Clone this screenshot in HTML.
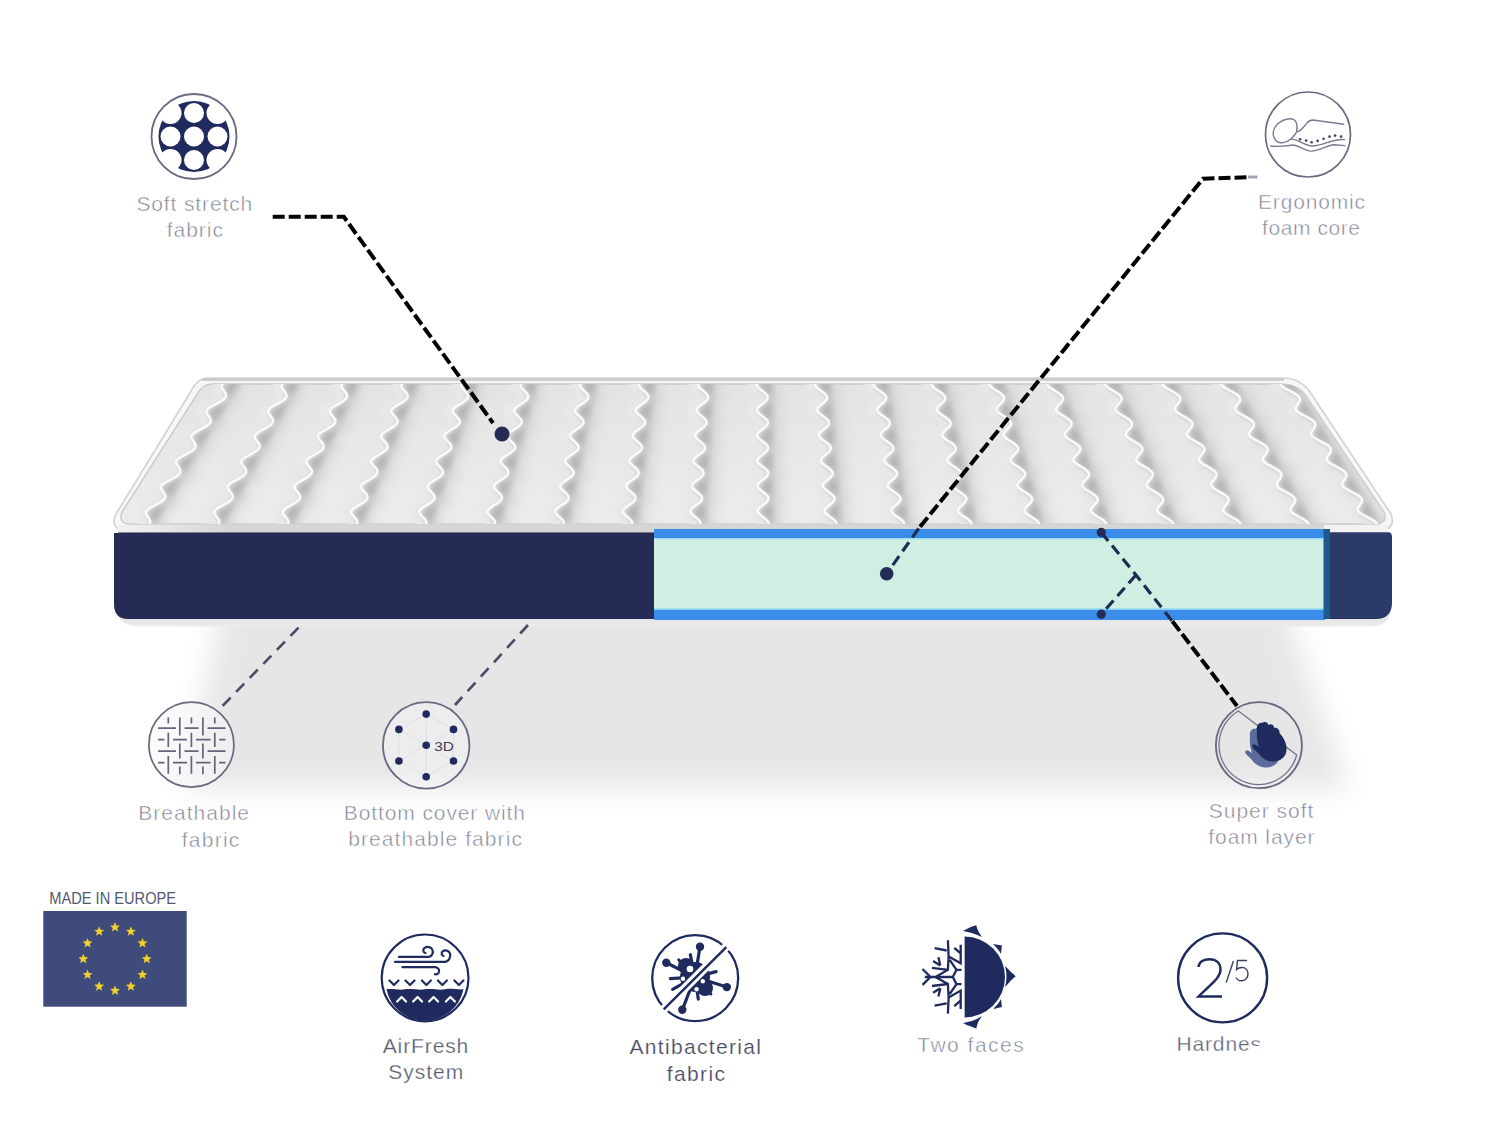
<!DOCTYPE html>
<html><head><meta charset="utf-8">
<style>
html,body{margin:0;padding:0;background:#fff;width:1500px;height:1125px;overflow:hidden}
svg{position:absolute;left:0;top:0;display:block}
text{font-family:"Liberation Sans",sans-serif}
</style></head><body>
<svg width="1500" height="1125" viewBox="0 0 1500 1125">
<defs>
<g id="waves"><path d="M232.5,378.0 L230.5,379.1 L228.4,380.2 L226.4,381.3 L224.7,382.3 L223.2,383.4 L222.1,384.5 L221.6,385.6 L221.6,386.7 L221.9,387.8 L222.5,388.9 L223.2,389.9 L224.0,391.0 L224.7,392.1 L225.4,393.2 L225.8,394.3 L225.9,395.4 L225.8,396.5 L225.3,397.5 L224.4,398.6 L223.2,399.7 L221.7,400.8 L219.9,401.9 L217.9,403.0 L215.8,404.1 L213.8,405.1 L211.8,406.2 L209.9,407.3 L208.4,408.4 L207.2,409.5 L206.5,410.6 L206.4,411.7 L206.6,412.7 L207.1,413.8 L207.8,414.9 L208.6,416.0 L209.4,417.1 L210.1,418.2 L210.5,419.3 L210.8,420.3 L210.7,421.4 L210.3,422.5 L209.5,423.6 L208.4,424.7 L206.9,425.8 L205.2,426.9 L203.3,427.9 L201.2,429.0 L199.1,430.1 L197.1,431.2 L195.2,432.3 L193.6,433.4 L192.3,434.5 L191.5,435.5 L191.3,436.6 L191.4,437.7 L191.8,438.8 L192.5,439.9 L193.3,441.0 L194.0,442.1 L194.7,443.1 L195.3,444.2 L195.6,445.3 L195.6,446.4 L195.3,447.5 L194.6,448.6 L193.6,449.7 L192.2,450.7 L190.5,451.8 L188.6,452.9 L186.6,454.0 L184.5,455.1 L182.5,456.2 L180.5,457.3 L178.8,458.3 L177.5,459.4 L176.5,460.5 L176.1,461.6 L176.2,462.7 L176.6,463.8 L177.2,464.9 L177.9,465.9 L178.7,467.0 L179.4,468.1 L180.0,469.2 L180.4,470.3 L180.5,471.4 L180.2,472.5 L179.7,473.5 L178.7,474.6 L177.4,475.7 L175.8,476.8 L174.0,477.9 L172.0,479.0 L169.9,480.1 L167.8,481.1 L165.9,482.2 L164.1,483.3 L162.6,484.4 L161.5,485.5 L161.0,486.6 L161.0,487.7 L161.3,488.7 L161.8,489.8 L162.6,490.9 L163.3,492.0 L164.1,493.1 L164.7,494.2 L165.2,495.3 L165.3,496.3 L165.2,497.4 L164.7,498.5 L163.8,499.6 L162.6,500.7 L161.1,501.8 L159.3,502.9 L157.4,503.9 L155.3,505.0 L153.2,506.1 L151.2,507.2 L149.4,508.3 L147.8,509.4 L146.6,510.5 L145.9,511.5 L145.8,512.6 L146.0,513.7 L146.5,514.8 L147.2,515.9 L148.0,517.0 L148.8,518.1 L149.4,519.1 L149.9,520.2 L150.2,521.3 L150.1,522.4 L149.7,523.5 L148.9,524.6 L147.8,525.7 L146.4,526.7 L144.7,527.8 L142.7,528.9 L140.7,530.0" />
<path d="M292.0,378.0 L290.0,379.1 L288.0,380.2 L286.1,381.3 L284.4,382.3 L283.0,383.4 L282.0,384.5 L281.6,385.6 L281.6,386.7 L282.0,387.8 L282.6,388.9 L283.4,389.9 L284.3,391.0 L285.1,392.1 L285.8,393.2 L286.3,394.3 L286.5,395.4 L286.5,396.5 L286.0,397.5 L285.2,398.6 L284.1,399.7 L282.6,400.8 L280.9,401.9 L279.0,403.0 L277.0,404.1 L275.0,405.1 L273.1,406.2 L271.3,407.3 L269.9,408.4 L268.8,409.5 L268.2,410.6 L268.1,411.7 L268.4,412.7 L269.0,413.8 L269.8,414.9 L270.6,416.0 L271.4,417.1 L272.2,418.2 L272.8,419.3 L273.1,420.3 L273.1,421.4 L272.7,422.5 L272.0,423.6 L271.0,424.7 L269.6,425.8 L267.9,426.9 L266.1,427.9 L264.1,429.0 L262.1,430.1 L260.1,431.2 L258.3,432.3 L256.8,433.4 L255.6,434.5 L254.8,435.5 L254.6,436.6 L254.9,437.7 L255.4,438.8 L256.1,439.9 L256.9,441.0 L257.8,442.1 L258.6,443.1 L259.2,444.2 L259.6,445.3 L259.6,446.4 L259.4,447.5 L258.8,448.6 L257.8,449.7 L256.5,450.7 L254.9,451.8 L253.1,452.9 L251.2,454.0 L249.1,455.1 L247.2,456.2 L245.3,457.3 L243.7,458.3 L242.4,459.4 L241.5,460.5 L241.2,461.6 L241.3,462.7 L241.8,463.8 L242.5,464.9 L243.3,465.9 L244.1,467.0 L244.9,468.1 L245.6,469.2 L246.0,470.3 L246.2,471.4 L246.0,472.5 L245.5,473.5 L244.6,474.6 L243.4,475.7 L241.9,476.8 L240.2,477.9 L238.2,479.0 L236.2,480.1 L234.2,481.1 L232.3,482.2 L230.6,483.3 L229.2,484.4 L228.2,485.5 L227.8,486.6 L227.8,487.7 L228.2,488.7 L228.8,489.8 L229.6,490.9 L230.5,492.0 L231.3,493.1 L232.0,494.2 L232.5,495.3 L232.8,496.3 L232.7,497.4 L232.2,498.5 L231.5,499.6 L230.3,500.7 L228.9,501.8 L227.2,502.9 L225.3,503.9 L223.3,505.0 L221.3,506.1 L219.3,507.2 L217.6,508.3 L216.1,509.4 L215.0,510.5 L214.4,511.5 L214.3,512.6 L214.6,513.7 L215.2,514.8 L215.9,515.9 L216.8,517.0 L217.6,518.1 L218.4,519.1 L219.0,520.2 L219.3,521.3 L219.3,522.4 L218.9,523.5 L218.2,524.6 L217.2,525.7 L215.8,526.7 L214.2,527.8 L212.3,528.9 L210.4,530.0" />
<path d="M351.3,378.0 L349.4,379.1 L347.5,380.2 L345.7,381.3 L344.1,382.3 L342.7,383.4 L341.8,384.5 L341.5,385.6 L341.6,386.7 L342.0,387.8 L342.7,388.9 L343.6,389.9 L344.5,391.0 L345.4,392.1 L346.2,393.2 L346.8,394.3 L347.1,395.4 L347.1,396.5 L346.7,397.5 L346.0,398.6 L344.9,399.7 L343.6,400.8 L341.9,401.9 L340.1,403.0 L338.2,404.1 L336.2,405.1 L334.4,406.2 L332.7,407.3 L331.3,408.4 L330.3,409.5 L329.7,410.6 L329.8,411.7 L330.1,412.7 L330.8,413.8 L331.6,414.9 L332.6,416.0 L333.5,417.1 L334.3,418.2 L334.9,419.3 L335.3,420.3 L335.4,421.4 L335.1,422.5 L334.5,423.6 L333.5,424.7 L332.2,425.8 L330.6,426.9 L328.8,427.9 L326.9,429.0 L325.0,430.1 L323.1,431.2 L321.4,432.3 L319.9,433.4 L318.7,434.5 L318.1,435.5 L318.0,436.6 L318.3,437.7 L318.9,438.8 L319.7,439.9 L320.6,441.0 L321.5,442.1 L322.3,443.1 L323.0,444.2 L323.5,445.3 L323.6,446.4 L323.5,447.5 L322.9,448.6 L322.0,449.7 L320.8,450.7 L319.3,451.8 L317.6,452.9 L315.7,454.0 L313.7,455.1 L311.8,456.2 L310.0,457.3 L308.5,458.3 L307.3,459.4 L306.4,460.5 L306.2,461.6 L306.4,462.7 L306.9,463.8 L307.7,464.9 L308.6,465.9 L309.5,467.0 L310.4,468.1 L311.1,469.2 L311.7,470.3 L311.9,471.4 L311.8,472.5 L311.4,473.5 L310.5,474.6 L309.4,475.7 L308.0,476.8 L306.3,477.9 L304.4,479.0 L302.5,480.1 L300.6,481.1 L298.7,482.2 L297.1,483.3 L295.8,484.4 L294.9,485.5 L294.5,486.6 L294.6,487.7 L295.0,488.7 L295.7,489.8 L296.6,490.9 L297.5,492.0 L298.4,493.1 L299.2,494.2 L299.8,495.3 L300.1,496.3 L300.1,497.4 L299.8,498.5 L299.0,499.6 L298.0,500.7 L296.6,501.8 L295.0,502.9 L293.2,503.9 L291.2,505.0 L289.3,506.1 L287.4,507.2 L285.8,508.3 L284.4,509.4 L283.3,510.5 L282.8,511.5 L282.8,512.6 L283.1,513.7 L283.8,514.8 L284.6,515.9 L285.6,517.0 L286.5,518.1 L287.3,519.1 L287.9,520.2 L288.3,521.3 L288.4,522.4 L288.1,523.5 L287.5,524.6 L286.5,525.7 L285.2,526.7 L283.7,527.8 L281.9,528.9 L280.0,530.0" />
<path d="M410.7,378.0 L408.8,379.1 L406.9,380.2 L405.2,381.3 L403.7,382.3 L402.4,383.4 L401.6,384.5 L401.3,385.6 L401.5,386.7 L402.0,387.8 L402.8,388.9 L403.7,389.9 L404.7,391.0 L405.7,392.1 L406.5,393.2 L407.2,394.3 L407.6,395.4 L407.6,396.5 L407.3,397.5 L406.7,398.6 L405.7,399.7 L404.4,400.8 L402.8,401.9 L401.1,403.0 L399.2,404.1 L397.4,405.1 L395.6,406.2 L394.0,407.3 L392.7,408.4 L391.7,409.5 L391.2,410.6 L391.3,411.7 L391.8,412.7 L392.5,413.8 L393.4,414.9 L394.4,416.0 L395.4,417.1 L396.3,418.2 L397.0,419.3 L397.5,420.3 L397.6,421.4 L397.4,422.5 L396.9,423.6 L395.9,424.7 L394.7,425.8 L393.2,426.9 L391.5,427.9 L389.7,429.0 L387.8,430.1 L386.0,431.2 L384.3,432.3 L382.9,433.4 L381.9,434.5 L381.3,435.5 L381.2,436.6 L381.6,437.7 L382.3,438.8 L383.1,439.9 L384.1,441.0 L385.1,442.1 L386.0,443.1 L386.8,444.2 L387.3,445.3 L387.6,446.4 L387.5,447.5 L387.0,448.6 L386.2,449.7 L385.0,450.7 L383.6,451.8 L381.9,452.9 L380.1,454.0 L378.2,455.1 L376.4,456.2 L374.7,457.3 L373.2,458.3 L372.1,459.4 L371.3,460.5 L371.2,461.6 L371.4,462.7 L372.0,463.8 L372.9,464.9 L373.8,465.9 L374.8,467.0 L375.8,468.1 L376.6,469.2 L377.2,470.3 L377.5,471.4 L377.5,472.5 L377.1,473.5 L376.4,474.6 L375.3,475.7 L373.9,476.8 L372.3,477.9 L370.5,479.0 L368.7,480.1 L366.8,481.1 L365.1,482.2 L363.5,483.3 L362.3,484.4 L361.4,485.5 L361.1,486.6 L361.3,487.7 L361.8,488.7 L362.6,489.8 L363.5,490.9 L364.5,492.0 L365.5,493.1 L366.4,494.2 L367.0,495.3 L367.4,496.3 L367.5,497.4 L367.2,498.5 L366.5,499.6 L365.6,500.7 L364.3,501.8 L362.7,502.9 L361.0,503.9 L359.1,505.0 L357.2,506.1 L355.5,507.2 L353.9,508.3 L352.5,509.4 L351.5,510.5 L351.1,511.5 L351.2,512.6 L351.6,513.7 L352.3,514.8 L353.2,515.9 L354.2,517.0 L355.2,518.1 L356.1,519.1 L356.8,520.2 L357.3,521.3 L357.4,522.4 L357.3,523.5 L356.7,524.6 L355.8,525.7 L354.6,526.7 L353.1,527.8 L351.4,528.9 L349.5,530.0" />
<path d="M469.8,378.0 L468.1,379.1 L466.3,380.2 L464.6,381.3 L463.1,382.3 L462.0,383.4 L461.2,384.5 L461.0,385.6 L461.2,386.7 L461.8,387.8 L462.7,388.9 L463.7,389.9 L464.8,391.0 L465.8,392.1 L466.8,393.2 L467.5,394.3 L467.9,395.4 L468.1,396.5 L467.9,397.5 L467.3,398.6 L466.4,399.7 L465.1,400.8 L463.6,401.9 L462.0,403.0 L460.2,404.1 L458.4,405.1 L456.7,406.2 L455.2,407.3 L453.9,408.4 L453.0,409.5 L452.6,410.6 L452.8,411.7 L453.3,412.7 L454.1,413.8 L455.1,414.9 L456.2,416.0 L457.2,417.1 L458.2,418.2 L459.0,419.3 L459.5,420.3 L459.7,421.4 L459.6,422.5 L459.1,423.6 L458.3,424.7 L457.1,425.8 L455.7,426.9 L454.1,427.9 L452.3,429.0 L450.5,430.1 L448.8,431.2 L447.2,432.3 L445.9,433.4 L444.9,434.5 L444.3,435.5 L444.4,436.6 L444.8,437.7 L445.6,438.8 L446.5,439.9 L447.6,441.0 L448.6,442.1 L449.6,443.1 L450.5,444.2 L451.1,445.3 L451.4,446.4 L451.3,447.5 L450.9,448.6 L450.2,449.7 L449.1,450.7 L447.7,451.8 L446.2,452.9 L444.4,454.0 L442.6,455.1 L440.9,456.2 L439.2,457.3 L437.8,458.3 L436.7,459.4 L436.1,460.5 L436.0,461.6 L436.3,462.7 L437.0,463.8 L437.9,464.9 L438.9,465.9 L440.0,467.0 L441.0,468.1 L441.9,469.2 L442.6,470.3 L443.0,471.4 L443.0,472.5 L442.7,473.5 L442.1,474.6 L441.1,475.7 L439.8,476.8 L438.2,477.9 L436.5,479.0 L434.7,480.1 L433.0,481.1 L431.3,482.2 L429.8,483.3 L428.6,484.4 L427.8,485.5 L427.6,486.6 L427.9,487.7 L428.5,488.7 L429.3,489.8 L430.3,490.9 L431.4,492.0 L432.5,493.1 L433.4,494.2 L434.1,495.3 L434.6,496.3 L434.7,497.4 L434.5,498.5 L433.9,499.6 L433.0,500.7 L431.8,501.8 L430.3,502.9 L428.6,503.9 L426.9,505.0 L425.1,506.1 L423.4,507.2 L421.8,508.3 L420.6,509.4 L419.7,510.5 L419.3,511.5 L419.4,512.6 L419.9,513.7 L420.7,514.8 L421.7,515.9 L422.8,517.0 L423.9,518.1 L424.8,519.1 L425.6,520.2 L426.1,521.3 L426.4,522.4 L426.3,523.5 L425.8,524.6 L424.9,525.7 L423.8,526.7 L422.4,527.8 L420.7,528.9 L419.0,530.0" />
<path d="M528.9,378.0 L527.2,379.1 L525.5,380.2 L523.9,381.3 L522.5,382.3 L521.4,383.4 L520.7,384.5 L520.5,385.6 L520.9,386.7 L521.5,387.8 L522.5,388.9 L523.6,389.9 L524.7,391.0 L525.8,392.1 L526.8,393.2 L527.6,394.3 L528.1,395.4 L528.4,396.5 L528.2,397.5 L527.7,398.6 L526.9,399.7 L525.7,400.8 L524.3,401.9 L522.7,403.0 L521.0,404.1 L519.3,405.1 L517.6,406.2 L516.2,407.3 L515.0,408.4 L514.2,409.5 L513.9,410.6 L514.1,411.7 L514.7,412.7 L515.6,413.8 L516.6,414.9 L517.8,416.0 L518.9,417.1 L520.0,418.2 L520.8,419.3 L521.4,420.3 L521.7,421.4 L521.6,422.5 L521.2,423.6 L520.5,424.7 L519.4,425.8 L518.0,426.9 L516.5,427.9 L514.8,429.0 L513.1,430.1 L511.4,431.2 L509.9,432.3 L508.6,433.4 L507.7,434.5 L507.2,435.5 L507.4,436.6 L507.9,437.7 L508.7,438.8 L509.7,439.9 L510.8,441.0 L512.0,442.1 L513.1,443.1 L514.0,444.2 L514.6,445.3 L515.0,446.4 L515.1,447.5 L514.7,448.6 L514.1,449.7 L513.1,450.7 L511.8,451.8 L510.2,452.9 L508.6,454.0 L506.9,455.1 L505.2,456.2 L503.6,457.3 L502.3,458.3 L501.3,459.4 L500.7,460.5 L500.7,461.6 L501.1,462.7 L501.8,463.8 L502.8,464.9 L503.9,465.9 L505.1,467.0 L506.2,468.1 L507.1,469.2 L507.9,470.3 L508.3,471.4 L508.4,472.5 L508.2,473.5 L507.6,474.6 L506.7,475.7 L505.5,476.8 L504.0,477.9 L502.4,479.0 L500.7,480.1 L499.0,481.1 L497.4,482.2 L496.0,483.3 L494.9,484.4 L494.1,485.5 L494.0,486.6 L494.3,487.7 L495.0,488.7 L495.9,489.8 L497.0,490.9 L498.1,492.0 L499.3,493.1 L500.3,494.2 L501.1,495.3 L501.6,496.3 L501.8,497.4 L501.7,498.5 L501.2,499.6 L500.3,500.7 L499.2,501.8 L497.8,502.9 L496.2,503.9 L494.5,505.0 L492.8,506.1 L491.1,507.2 L489.7,508.3 L488.5,509.4 L487.6,510.5 L487.3,511.5 L487.5,512.6 L488.1,513.7 L489.0,514.8 L490.1,515.9 L491.2,517.0 L492.3,518.1 L493.4,519.1 L494.2,520.2 L494.8,521.3 L495.1,522.4 L495.1,523.5 L494.7,524.6 L493.9,525.7 L492.9,526.7 L491.5,527.8 L490.0,528.9 L488.3,530.0" />
<path d="M587.7,378.0 L586.1,379.1 L584.5,380.2 L583.0,381.3 L581.6,382.3 L580.6,383.4 L580.0,384.5 L579.9,385.6 L580.3,386.7 L581.1,387.8 L582.1,388.9 L583.2,389.9 L584.5,391.0 L585.6,392.1 L586.7,393.2 L587.6,394.3 L588.2,395.4 L588.5,396.5 L588.4,397.5 L588.0,398.6 L587.2,399.7 L586.1,400.8 L584.8,401.9 L583.2,403.0 L581.6,404.1 L580.0,405.1 L578.4,406.2 L577.0,407.3 L575.9,408.4 L575.2,409.5 L574.9,410.6 L575.2,411.7 L575.9,412.7 L576.9,413.8 L578.0,414.9 L579.2,416.0 L580.4,417.1 L581.5,418.2 L582.5,419.3 L583.1,420.3 L583.5,421.4 L583.5,422.5 L583.2,423.6 L582.5,424.7 L581.5,425.8 L580.2,426.9 L578.7,427.9 L577.1,429.0 L575.4,430.1 L573.8,431.2 L572.4,432.3 L571.2,433.4 L570.4,434.5 L570.0,435.5 L570.2,436.6 L570.8,437.7 L571.7,438.8 L572.7,439.9 L574.0,441.0 L575.2,442.1 L576.3,443.1 L577.3,444.2 L578.0,445.3 L578.5,446.4 L578.6,447.5 L578.4,448.6 L577.8,449.7 L576.8,450.7 L575.6,451.8 L574.2,452.9 L572.6,454.0 L570.9,455.1 L569.3,456.2 L567.8,457.3 L566.6,458.3 L565.6,459.4 L565.1,460.5 L565.2,461.6 L565.7,462.7 L566.5,463.8 L567.5,464.9 L568.7,465.9 L569.9,467.0 L571.1,468.1 L572.1,469.2 L572.9,470.3 L573.5,471.4 L573.7,472.5 L573.5,473.5 L573.0,474.6 L572.2,475.7 L571.0,476.8 L569.6,477.9 L568.1,479.0 L566.4,480.1 L564.8,481.1 L563.3,482.2 L561.9,483.3 L560.9,484.4 L560.2,485.5 L560.2,486.6 L560.6,487.7 L561.3,488.7 L562.3,489.8 L563.5,490.9 L564.7,492.0 L565.9,493.1 L567.0,494.2 L567.8,495.3 L568.4,496.3 L568.7,497.4 L568.7,498.5 L568.2,499.6 L567.5,500.7 L566.4,501.8 L565.1,502.9 L563.5,503.9 L561.9,505.0 L560.3,506.1 L558.7,507.2 L557.3,508.3 L556.2,509.4 L555.4,510.5 L555.2,511.5 L555.5,512.6 L556.1,513.7 L557.1,514.8 L558.2,515.9 L559.4,517.0 L560.6,518.1 L561.8,519.1 L562.7,520.2 L563.4,521.3 L563.7,522.4 L563.8,523.5 L563.4,524.6 L562.8,525.7 L561.8,526.7 L560.5,527.8 L559.0,528.9 L557.4,530.0" />
<path d="M646.4,378.0 L644.8,379.1 L643.3,380.2 L641.8,381.3 L640.6,382.3 L639.6,383.4 L639.1,384.5 L639.1,385.6 L639.6,386.7 L640.4,387.8 L641.5,388.9 L642.7,389.9 L644.0,391.0 L645.3,392.1 L646.4,393.2 L647.4,394.3 L648.0,395.4 L648.4,396.5 L648.4,397.5 L648.0,398.6 L647.3,399.7 L646.3,400.8 L645.0,401.9 L643.6,403.0 L642.0,404.1 L640.4,405.1 L639.0,406.2 L637.7,407.3 L636.6,408.4 L635.9,409.5 L635.8,410.6 L636.2,411.7 L636.9,412.7 L637.9,413.8 L639.1,414.9 L640.4,416.0 L641.7,417.1 L642.9,418.2 L643.9,419.3 L644.6,420.3 L645.1,421.4 L645.2,422.5 L644.9,423.6 L644.3,424.7 L643.4,425.8 L642.1,426.9 L640.7,427.9 L639.2,429.0 L637.6,430.1 L636.1,431.2 L634.7,432.3 L633.6,433.4 L632.8,434.5 L632.5,435.5 L632.8,436.6 L633.5,437.7 L634.4,438.8 L635.6,439.9 L636.9,441.0 L638.2,442.1 L639.4,443.1 L640.4,444.2 L641.3,445.3 L641.8,446.4 L642.0,447.5 L641.8,448.6 L641.3,449.7 L640.4,450.7 L639.2,451.8 L637.9,452.9 L636.4,454.0 L634.8,455.1 L633.2,456.2 L631.8,457.3 L630.6,458.3 L629.8,459.4 L629.3,460.5 L629.5,461.6 L630.0,462.7 L630.9,463.8 L632.0,464.9 L633.3,465.9 L634.6,467.0 L635.8,468.1 L637.0,469.2 L637.8,470.3 L638.4,471.4 L638.7,472.5 L638.6,473.5 L638.2,474.6 L637.4,475.7 L636.3,476.8 L635.0,477.9 L633.5,479.0 L632.0,480.1 L630.4,481.1 L628.9,482.2 L627.7,483.3 L626.7,484.4 L626.2,485.5 L626.1,486.6 L626.6,487.7 L627.4,488.7 L628.5,489.8 L629.7,490.9 L631.0,492.0 L632.3,493.1 L633.5,494.2 L634.4,495.3 L635.1,496.3 L635.4,497.4 L635.5,498.5 L635.1,499.6 L634.4,500.7 L633.4,501.8 L632.1,502.9 L630.7,503.9 L629.1,505.0 L627.6,506.1 L626.1,507.2 L624.8,508.3 L623.7,509.4 L623.0,510.5 L622.9,511.5 L623.2,512.6 L624.0,513.7 L625.0,514.8 L626.2,515.9 L627.5,517.0 L628.8,518.1 L629.9,519.1 L630.9,520.2 L631.7,521.3 L632.2,522.4 L632.3,523.5 L632.0,524.6 L631.4,525.7 L630.5,526.7 L629.3,527.8 L627.8,528.9 L626.3,530.0" />
<path d="M704.9,378.0 L703.4,379.1 L701.9,380.2 L700.5,381.3 L699.3,382.3 L698.5,383.4 L698.0,384.5 L698.1,385.6 L698.6,386.7 L699.5,387.8 L700.7,388.9 L702.0,389.9 L703.3,391.0 L704.7,392.1 L705.9,393.2 L706.9,394.3 L707.7,395.4 L708.1,396.5 L708.2,397.5 L707.9,398.6 L707.2,399.7 L706.3,400.8 L705.1,401.9 L703.7,403.0 L702.2,404.1 L700.7,405.1 L699.3,406.2 L698.1,407.3 L697.1,408.4 L696.5,409.5 L696.5,410.6 L696.9,411.7 L697.7,412.7 L698.8,413.8 L700.1,414.9 L701.5,416.0 L702.8,417.1 L704.1,418.2 L705.1,419.3 L706.0,420.3 L706.5,421.4 L706.6,422.5 L706.5,423.6 L705.9,424.7 L705.0,425.8 L703.9,426.9 L702.6,427.9 L701.1,429.0 L699.6,430.1 L698.1,431.2 L696.9,432.3 L695.8,433.4 L695.1,434.5 L694.9,435.5 L695.2,436.6 L696.0,437.7 L697.0,438.8 L698.2,439.9 L699.6,441.0 L700.9,442.1 L702.2,443.1 L703.4,444.2 L704.3,445.3 L704.8,446.4 L705.1,447.5 L705.0,448.6 L704.5,449.7 L703.8,450.7 L702.7,451.8 L701.4,452.9 L699.9,454.0 L698.4,455.1 L697.0,456.2 L695.6,457.3 L694.5,458.3 L693.7,459.4 L693.3,460.5 L693.6,461.6 L694.2,462.7 L695.2,463.8 L696.4,464.9 L697.7,465.9 L699.1,467.0 L700.4,468.1 L701.6,469.2 L702.5,470.3 L703.2,471.4 L703.5,472.5 L703.5,473.5 L703.2,474.6 L702.5,475.7 L701.5,476.8 L700.2,477.9 L698.8,479.0 L697.3,480.1 L695.8,481.1 L694.4,482.2 L693.3,483.3 L692.4,484.4 L691.9,485.5 L691.9,486.6 L692.5,487.7 L693.4,488.7 L694.5,489.8 L695.8,490.9 L697.2,492.0 L698.5,493.1 L699.7,494.2 L700.8,495.3 L701.5,496.3 L702.0,497.4 L702.0,498.5 L701.8,499.6 L701.1,500.7 L700.2,501.8 L699.0,502.9 L697.6,503.9 L696.2,505.0 L694.7,506.1 L693.2,507.2 L692.0,508.3 L691.0,509.4 L690.4,510.5 L690.3,511.5 L690.8,512.6 L691.6,513.7 L692.7,514.8 L693.9,515.9 L695.3,517.0 L696.7,518.1 L697.9,519.1 L699.0,520.2 L699.8,521.3 L700.3,522.4 L700.5,523.5 L700.3,524.6 L699.8,525.7 L699.0,526.7 L697.8,527.8 L696.5,528.9 L695.0,530.0" />
<path d="M763.1,378.0 L761.7,379.1 L760.3,380.2 L759.0,381.3 L757.9,382.3 L757.1,383.4 L756.7,384.5 L756.8,385.6 L757.4,386.7 L758.4,387.8 L759.6,388.9 L761.0,389.9 L762.5,391.0 L763.9,392.1 L765.2,393.2 L766.3,394.3 L767.1,395.4 L767.6,396.5 L767.7,397.5 L767.5,398.6 L767.0,399.7 L766.1,400.8 L765.0,401.9 L763.7,403.0 L762.2,404.1 L760.8,405.1 L759.5,406.2 L758.3,407.3 L757.4,408.4 L756.9,409.5 L756.9,410.6 L757.4,411.7 L758.3,412.7 L759.5,413.8 L760.8,414.9 L762.3,416.0 L763.7,417.1 L765.0,418.2 L766.2,419.3 L767.1,420.3 L767.7,421.4 L767.9,422.5 L767.8,423.6 L767.3,424.7 L766.5,425.8 L765.4,426.9 L764.2,427.9 L762.8,429.0 L761.4,430.1 L760.0,431.2 L758.8,432.3 L757.8,433.4 L757.2,434.5 L757.0,435.5 L757.4,436.6 L758.2,437.7 L759.3,438.8 L760.6,439.9 L762.1,441.0 L763.5,442.1 L764.9,443.1 L766.1,444.2 L767.0,445.3 L767.7,446.4 L768.0,447.5 L768.0,448.6 L767.6,449.7 L766.9,450.7 L765.9,451.8 L764.7,452.9 L763.3,454.0 L761.9,455.1 L760.5,456.2 L759.2,457.3 L758.2,458.3 L757.5,459.4 L757.2,460.5 L757.4,461.6 L758.2,462.7 L759.2,463.8 L760.5,464.9 L761.9,465.9 L763.3,467.0 L764.7,468.1 L766.0,469.2 L767.0,470.3 L767.7,471.4 L768.2,472.5 L768.2,473.5 L767.9,474.6 L767.3,475.7 L766.4,476.8 L765.2,477.9 L763.9,479.0 L762.4,480.1 L761.0,481.1 L759.7,482.2 L758.6,483.3 L757.8,484.4 L757.4,485.5 L757.5,486.6 L758.1,487.7 L759.1,488.7 L760.3,489.8 L761.7,490.9 L763.1,492.0 L764.5,493.1 L765.8,494.2 L766.9,495.3 L767.8,496.3 L768.3,497.4 L768.4,498.5 L768.2,499.6 L767.7,500.7 L766.8,501.8 L765.7,502.9 L764.4,503.9 L763.0,505.0 L761.5,506.1 L760.2,507.2 L759.0,508.3 L758.1,509.4 L757.6,510.5 L757.6,511.5 L758.1,512.6 L759.0,513.7 L760.1,514.8 L761.5,515.9 L762.9,517.0 L764.4,518.1 L765.7,519.1 L766.8,520.2 L767.7,521.3 L768.3,522.4 L768.6,523.5 L768.5,524.6 L768.0,525.7 L767.2,526.7 L766.2,527.8 L764.9,528.9 L763.5,530.0" />
<path d="M821.2,378.0 L819.8,379.1 L818.5,380.2 L817.3,381.3 L816.2,382.3 L815.5,383.4 L815.1,384.5 L815.4,385.6 L816.1,386.7 L817.1,387.8 L818.4,388.9 L819.9,389.9 L821.4,391.0 L822.9,392.1 L824.2,393.2 L825.4,394.3 L826.3,395.4 L826.9,396.5 L827.1,397.5 L826.9,398.6 L826.5,399.7 L825.7,400.8 L824.6,401.9 L823.4,403.0 L822.0,404.1 L820.7,405.1 L819.4,406.2 L818.3,407.3 L817.5,408.4 L817.1,409.5 L817.1,410.6 L817.7,411.7 L818.7,412.7 L819.9,413.8 L821.4,414.9 L822.9,416.0 L824.4,417.1 L825.8,418.2 L827.0,419.3 L828.0,420.3 L828.6,421.4 L828.9,422.5 L828.9,423.6 L828.5,424.7 L827.8,425.8 L826.8,426.9 L825.6,427.9 L824.3,429.0 L822.9,430.1 L821.6,431.2 L820.5,432.3 L819.6,433.4 L819.0,434.5 L818.9,435.5 L819.4,436.6 L820.3,437.7 L821.5,438.8 L822.9,439.9 L824.4,441.0 L825.9,442.1 L827.3,443.1 L828.6,444.2 L829.6,445.3 L830.4,446.4 L830.8,447.5 L830.8,448.6 L830.5,449.7 L829.9,450.7 L828.9,451.8 L827.8,452.9 L826.5,454.0 L825.1,455.1 L823.8,456.2 L822.6,457.3 L821.7,458.3 L821.0,459.4 L820.8,460.5 L821.1,461.6 L821.9,462.7 L823.0,463.8 L824.4,464.9 L825.8,465.9 L827.4,467.0 L828.8,468.1 L830.2,469.2 L831.3,470.3 L832.1,471.4 L832.6,472.5 L832.7,473.5 L832.5,474.6 L831.9,475.7 L831.1,476.8 L830.0,477.9 L828.7,479.0 L827.4,480.1 L826.0,481.1 L824.8,482.2 L823.8,483.3 L823.0,484.4 L822.7,485.5 L822.9,486.6 L823.6,487.7 L824.6,488.7 L825.9,489.8 L827.3,490.9 L828.9,492.0 L830.3,493.1 L831.7,494.2 L832.9,495.3 L833.8,496.3 L834.4,497.4 L834.6,498.5 L834.5,499.6 L834.0,500.7 L833.2,501.8 L832.2,502.9 L830.9,503.9 L829.6,505.0 L828.2,506.1 L827.0,507.2 L825.9,508.3 L825.0,509.4 L824.6,510.5 L824.6,511.5 L825.2,512.6 L826.2,513.7 L827.4,514.8 L828.8,515.9 L830.3,517.0 L831.8,518.1 L833.2,519.1 L834.5,520.2 L835.4,521.3 L836.1,522.4 L836.4,523.5 L836.4,524.6 L836.0,525.7 L835.3,526.7 L834.3,527.8 L833.1,528.9 L831.8,530.0" />
<path d="M879.0,378.0 L877.7,379.1 L876.5,380.2 L875.3,381.3 L874.4,382.3 L873.7,383.4 L873.4,384.5 L873.7,385.6 L874.5,386.7 L875.6,387.8 L877.0,388.9 L878.5,389.9 L880.1,391.0 L881.7,392.1 L883.1,393.2 L884.3,394.3 L885.3,395.4 L886.0,396.5 L886.3,397.5 L886.2,398.6 L885.8,399.7 L885.1,400.8 L884.1,401.9 L882.9,403.0 L881.6,404.1 L880.4,405.1 L879.2,406.2 L878.2,407.3 L877.4,408.4 L877.0,409.5 L877.2,410.6 L877.9,411.7 L878.9,412.7 L880.2,413.8 L881.7,414.9 L883.3,416.0 L884.9,417.1 L886.3,418.2 L887.6,419.3 L888.7,420.3 L889.4,421.4 L889.8,422.5 L889.8,423.6 L889.5,424.7 L888.8,425.8 L887.9,426.9 L886.8,427.9 L885.6,429.0 L884.3,430.1 L883.0,431.2 L882.0,432.3 L881.2,433.4 L880.7,434.5 L880.7,435.5 L881.2,436.6 L882.2,437.7 L883.4,438.8 L884.9,439.9 L886.5,441.0 L888.0,442.1 L889.5,443.1 L890.9,444.2 L892.0,445.3 L892.8,446.4 L893.3,447.5 L893.4,448.6 L893.2,449.7 L892.6,450.7 L891.8,451.8 L890.7,452.9 L889.5,454.0 L888.2,455.1 L886.9,456.2 L885.8,457.3 L884.9,458.3 L884.3,459.4 L884.2,460.5 L884.6,461.6 L885.5,462.7 L886.7,463.8 L888.1,464.9 L889.6,465.9 L891.2,467.0 L892.8,468.1 L894.1,469.2 L895.3,470.3 L896.2,471.4 L896.8,472.5 L897.0,473.5 L896.9,474.6 L896.4,475.7 L895.6,476.8 L894.6,477.9 L893.4,479.0 L892.1,480.1 L890.8,481.1 L889.7,482.2 L888.7,483.3 L888.0,484.4 L887.7,485.5 L888.0,486.6 L888.8,487.7 L889.9,488.7 L891.3,489.8 L892.8,490.9 L894.4,492.0 L895.9,493.1 L897.4,494.2 L898.6,495.3 L899.6,496.3 L900.3,497.4 L900.6,498.5 L900.5,499.6 L900.1,500.7 L899.4,501.8 L898.4,502.9 L897.3,503.9 L896.0,505.0 L894.7,506.1 L893.5,507.2 L892.5,508.3 L891.7,509.4 L891.4,510.5 L891.5,511.5 L892.1,512.6 L893.2,513.7 L894.5,514.8 L896.0,515.9 L897.6,517.0 L899.1,518.1 L900.6,519.1 L901.9,520.2 L903.0,521.3 L903.7,522.4 L904.1,523.5 L904.1,524.6 L903.8,525.7 L903.2,526.7 L902.3,527.8 L901.1,528.9 L899.9,530.0" />
<path d="M936.7,378.0 L935.5,379.1 L934.3,380.2 L933.2,381.3 L932.3,382.3 L931.7,383.4 L931.5,384.5 L931.9,385.6 L932.8,386.7 L934.0,387.8 L935.4,388.9 L937.0,389.9 L938.7,391.0 L940.3,392.1 L941.8,393.2 L943.1,394.3 L944.2,395.4 L944.9,396.5 L945.2,397.5 L945.2,398.6 L944.9,399.7 L944.3,400.8 L943.4,401.9 L942.3,403.0 L941.1,404.1 L939.9,405.1 L938.8,406.2 L937.8,407.3 L937.1,408.4 L936.8,409.5 L937.0,410.6 L937.8,411.7 L938.9,412.7 L940.3,413.8 L941.9,414.9 L943.5,416.0 L945.2,417.1 L946.7,418.2 L948.1,419.3 L949.2,420.3 L950.0,421.4 L950.5,422.5 L950.6,423.6 L950.3,424.7 L949.7,425.8 L948.9,426.9 L947.8,427.9 L946.7,429.0 L945.5,430.1 L944.3,431.2 L943.3,432.3 L942.6,433.4 L942.2,434.5 L942.2,435.5 L942.8,436.6 L943.9,437.7 L945.2,438.8 L946.7,439.9 L948.4,441.0 L950.0,442.1 L951.6,443.1 L953.0,444.2 L954.2,445.3 L955.1,446.4 L955.7,447.5 L955.8,448.6 L955.7,449.7 L955.2,450.7 L954.4,451.8 L953.4,452.9 L952.3,454.0 L951.0,455.1 L949.9,456.2 L948.8,457.3 L948.0,458.3 L947.5,459.4 L947.4,460.5 L947.9,461.6 L948.9,462.7 L950.1,463.8 L951.6,464.9 L953.2,465.9 L954.9,467.0 L956.5,468.1 L958.0,469.2 L959.2,470.3 L960.2,471.4 L960.8,472.5 L961.1,473.5 L961.0,474.6 L960.6,475.7 L959.9,476.8 L959.0,477.9 L957.8,479.0 L956.6,480.1 L955.4,481.1 L954.4,482.2 L953.5,483.3 L952.9,484.4 L952.7,485.5 L953.0,486.6 L953.9,487.7 L955.0,488.7 L956.5,489.8 L958.1,490.9 L959.7,492.0 L961.4,493.1 L962.9,494.2 L964.2,495.3 L965.3,496.3 L966.0,497.4 L966.4,498.5 L966.4,499.6 L966.0,500.7 L965.4,501.8 L964.5,502.9 L963.4,503.9 L962.2,505.0 L961.0,506.1 L959.9,507.2 L959.0,508.3 L958.3,509.4 L958.0,510.5 L958.2,511.5 L958.9,512.6 L960.0,513.7 L961.4,514.8 L962.9,515.9 L964.6,517.0 L966.2,518.1 L967.8,519.1 L969.2,520.2 L970.3,521.3 L971.1,522.4 L971.6,523.5 L971.7,524.6 L971.4,525.7 L970.9,526.7 L970.0,527.8 L969.0,528.9 L967.8,530.0" />
<path d="M994.2,378.0 L993.1,379.1 L992.0,380.2 L991.0,381.3 L990.1,382.3 L989.6,383.4 L989.5,384.5 L990.0,385.6 L990.9,386.7 L992.1,387.8 L993.7,388.9 L995.3,389.9 L997.1,391.0 L998.8,392.1 L1000.4,393.2 L1001.7,394.3 L1002.8,395.4 L1003.6,396.5 L1004.1,397.5 L1004.2,398.6 L1003.9,399.7 L1003.3,400.8 L1002.5,401.9 L1001.5,403.0 L1000.4,404.1 L999.2,405.1 L998.2,406.2 L997.3,407.3 L996.7,408.4 L996.5,409.5 L996.8,410.6 L997.6,411.7 L998.8,412.7 L1000.2,413.8 L1001.9,414.9 L1003.6,416.0 L1005.3,417.1 L1006.9,418.2 L1008.4,419.3 L1009.6,420.3 L1010.5,421.4 L1011.0,422.5 L1011.2,423.6 L1011.0,424.7 L1010.5,425.8 L1009.7,426.9 L1008.7,427.9 L1007.6,429.0 L1006.5,430.1 L1005.4,431.2 L1004.5,432.3 L1003.8,433.4 L1003.5,434.5 L1003.6,435.5 L1004.3,436.6 L1005.4,437.7 L1006.8,438.8 L1008.4,439.9 L1010.1,441.0 L1011.9,442.1 L1013.5,443.1 L1015.0,444.2 L1016.3,445.3 L1017.2,446.4 L1017.9,447.5 L1018.1,448.6 L1018.0,449.7 L1017.6,450.7 L1016.9,451.8 L1016.0,452.9 L1014.9,454.0 L1013.8,455.1 L1012.7,456.2 L1011.7,457.3 L1010.9,458.3 L1010.5,459.4 L1010.5,460.5 L1011.1,461.6 L1012.1,462.7 L1013.4,463.8 L1015.0,464.9 L1016.7,465.9 L1018.4,467.0 L1020.1,468.1 L1021.6,469.2 L1023.0,470.3 L1024.0,471.4 L1024.7,472.5 L1025.1,473.5 L1025.1,474.6 L1024.7,475.7 L1024.1,476.8 L1023.2,477.9 L1022.2,479.0 L1021.0,480.1 L1019.9,481.1 L1018.9,482.2 L1018.1,483.3 L1017.6,484.4 L1017.4,485.5 L1017.9,486.6 L1018.8,487.7 L1020.0,488.7 L1021.5,489.8 L1023.2,490.9 L1025.0,492.0 L1026.7,493.1 L1028.2,494.2 L1029.6,495.3 L1030.8,496.3 L1031.6,497.4 L1032.0,498.5 L1032.1,499.6 L1031.8,500.7 L1031.3,501.8 L1030.4,502.9 L1029.4,503.9 L1028.3,505.0 L1027.2,506.1 L1026.1,507.2 L1025.3,508.3 L1024.7,509.4 L1024.4,510.5 L1024.7,511.5 L1025.5,512.6 L1026.7,513.7 L1028.1,514.8 L1029.8,515.9 L1031.5,517.0 L1033.2,518.1 L1034.8,519.1 L1036.3,520.2 L1037.5,521.3 L1038.4,522.4 L1038.9,523.5 L1039.1,524.6 L1038.9,525.7 L1038.4,526.7 L1037.7,527.8 L1036.7,528.9 L1035.6,530.0" />
<path d="M1051.6,378.0 L1050.6,379.1 L1049.5,380.2 L1048.6,381.3 L1047.8,382.3 L1047.4,383.4 L1047.3,384.5 L1047.9,385.6 L1048.9,386.7 L1050.2,387.8 L1051.8,388.9 L1053.5,389.9 L1055.3,391.0 L1057.1,392.1 L1058.8,393.2 L1060.2,394.3 L1061.4,395.4 L1062.3,396.5 L1062.8,397.5 L1063.0,398.6 L1062.8,399.7 L1062.3,400.8 L1061.5,401.9 L1060.6,403.0 L1059.5,404.1 L1058.5,405.1 L1057.5,406.2 L1056.7,407.3 L1056.2,408.4 L1056.0,409.5 L1056.4,410.6 L1057.3,411.7 L1058.5,412.7 L1060.1,413.8 L1061.8,414.9 L1063.6,416.0 L1065.4,417.1 L1067.1,418.2 L1068.6,419.3 L1069.8,420.3 L1070.8,421.4 L1071.4,422.5 L1071.6,423.6 L1071.5,424.7 L1071.1,425.8 L1070.4,426.9 L1069.5,427.9 L1068.5,429.0 L1067.4,430.1 L1066.4,431.2 L1065.6,432.3 L1065.0,433.4 L1064.7,434.5 L1064.9,435.5 L1065.7,436.6 L1066.9,437.7 L1068.3,438.8 L1070.0,439.9 L1071.8,441.0 L1073.6,442.1 L1075.3,443.1 L1076.9,444.2 L1078.2,445.3 L1079.3,446.4 L1080.0,447.5 L1080.3,448.6 L1080.3,449.7 L1079.9,450.7 L1079.3,451.8 L1078.4,452.9 L1077.4,454.0 L1076.4,455.1 L1075.3,456.2 L1074.4,457.3 L1073.8,458.3 L1073.4,459.4 L1073.5,460.5 L1074.1,461.6 L1075.2,462.7 L1076.6,463.8 L1078.2,464.9 L1080.0,465.9 L1081.8,467.0 L1083.6,468.1 L1085.2,469.2 L1086.6,470.3 L1087.7,471.4 L1088.5,472.5 L1088.9,473.5 L1089.0,474.6 L1088.7,475.7 L1088.2,476.8 L1087.4,477.9 L1086.4,479.0 L1085.3,480.1 L1084.3,481.1 L1083.3,482.2 L1082.6,483.3 L1082.2,484.4 L1082.1,485.5 L1082.6,486.6 L1083.6,487.7 L1084.9,488.7 L1086.5,489.8 L1088.2,490.9 L1090.0,492.0 L1091.8,493.1 L1093.5,494.2 L1094.9,495.3 L1096.1,496.3 L1097.0,497.4 L1097.5,498.5 L1097.7,499.6 L1097.5,500.7 L1097.0,501.8 L1096.3,502.9 L1095.3,503.9 L1094.3,505.0 L1093.2,506.1 L1092.3,507.2 L1091.5,508.3 L1090.9,509.4 L1090.7,510.5 L1091.1,511.5 L1092.0,512.6 L1093.2,513.7 L1094.8,514.8 L1096.5,515.9 L1098.3,517.0 L1100.1,518.1 L1101.8,519.1 L1103.3,520.2 L1104.5,521.3 L1105.5,522.4 L1106.1,523.5 L1106.4,524.6 L1106.3,525.7 L1105.9,526.7 L1105.2,527.8 L1104.3,528.9 L1103.2,530.0" />
<path d="M1108.9,378.0 L1108.0,379.1 L1107.0,380.2 L1106.1,381.3 L1105.5,382.3 L1105.1,383.4 L1105.1,384.5 L1105.7,385.6 L1106.8,386.7 L1108.2,387.8 L1109.8,388.9 L1111.7,389.9 L1113.5,391.0 L1115.4,392.1 L1117.1,393.2 L1118.7,394.3 L1119.9,395.4 L1120.9,396.5 L1121.4,397.5 L1121.7,398.6 L1121.6,399.7 L1121.1,400.8 L1120.4,401.9 L1119.6,403.0 L1118.6,404.1 L1117.6,405.1 L1116.7,406.2 L1116.0,407.3 L1115.5,408.4 L1115.5,409.5 L1115.9,410.6 L1116.9,411.7 L1118.2,412.7 L1119.8,413.8 L1121.6,414.9 L1123.5,416.0 L1125.3,417.1 L1127.1,418.2 L1128.7,419.3 L1130.0,420.3 L1131.0,421.4 L1131.7,422.5 L1132.0,423.6 L1132.0,424.7 L1131.7,425.8 L1131.0,426.9 L1130.2,427.9 L1129.2,429.0 L1128.2,430.1 L1127.3,431.2 L1126.5,432.3 L1126.0,433.4 L1125.8,434.5 L1126.1,435.5 L1127.0,436.6 L1128.2,437.7 L1129.7,438.8 L1131.5,439.9 L1133.4,441.0 L1135.2,442.1 L1137.0,443.1 L1138.7,444.2 L1140.1,445.3 L1141.2,446.4 L1142.0,447.5 L1142.4,448.6 L1142.4,449.7 L1142.2,450.7 L1141.6,451.8 L1140.8,452.9 L1139.9,454.0 L1138.9,455.1 L1137.9,456.2 L1137.1,457.3 L1136.5,458.3 L1136.2,459.4 L1136.4,460.5 L1137.1,461.6 L1138.2,462.7 L1139.7,463.8 L1141.4,464.9 L1143.3,465.9 L1145.1,467.0 L1147.0,468.1 L1148.7,469.2 L1150.1,470.3 L1151.3,471.4 L1152.2,472.5 L1152.7,473.5 L1152.8,474.6 L1152.6,475.7 L1152.2,476.8 L1151.4,477.9 L1150.5,479.0 L1149.5,480.1 L1148.6,481.1 L1147.7,482.2 L1147.0,483.3 L1146.6,484.4 L1146.7,485.5 L1147.2,486.6 L1148.3,487.7 L1149.7,488.7 L1151.4,489.8 L1153.2,490.9 L1155.1,492.0 L1156.9,493.1 L1158.6,494.2 L1160.2,495.3 L1161.4,496.3 L1162.4,497.4 L1163.0,498.5 L1163.2,499.6 L1163.1,500.7 L1162.7,501.8 L1162.0,502.9 L1161.1,503.9 L1160.2,505.0 L1159.2,506.1 L1158.3,507.2 L1157.6,508.3 L1157.1,509.4 L1157.0,510.5 L1157.4,511.5 L1158.4,512.6 L1159.7,513.7 L1161.3,514.8 L1163.1,515.9 L1165.0,517.0 L1166.8,518.1 L1168.6,519.1 L1170.2,520.2 L1171.5,521.3 L1172.6,522.4 L1173.3,523.5 L1173.6,524.6 L1173.6,525.7 L1173.2,526.7 L1172.6,527.8 L1171.8,528.9 L1170.8,530.0" />
<path d="M1166.2,378.0 L1165.3,379.1 L1164.4,380.2 L1163.6,381.3 L1163.0,382.3 L1162.7,383.4 L1162.8,384.5 L1163.5,385.6 L1164.6,386.7 L1166.1,387.8 L1167.9,388.9 L1169.8,389.9 L1171.7,391.0 L1173.6,392.1 L1175.4,393.2 L1177.0,394.3 L1178.4,395.4 L1179.4,396.5 L1180.0,397.5 L1180.3,398.6 L1180.3,399.7 L1179.9,400.8 L1179.3,401.9 L1178.5,403.0 L1177.6,404.1 L1176.7,405.1 L1175.9,406.2 L1175.3,407.3 L1174.9,408.4 L1174.9,409.5 L1175.4,410.6 L1176.4,411.7 L1177.8,412.7 L1179.5,413.8 L1181.3,414.9 L1183.3,416.0 L1185.2,417.1 L1187.1,418.2 L1188.7,419.3 L1190.1,420.3 L1191.2,421.4 L1192.0,422.5 L1192.4,423.6 L1192.4,424.7 L1192.2,425.8 L1191.6,426.9 L1190.8,427.9 L1190.0,429.0 L1189.0,430.1 L1188.2,431.2 L1187.5,432.3 L1187.0,433.4 L1186.9,434.5 L1187.3,435.5 L1188.2,436.6 L1189.5,437.7 L1191.1,438.8 L1193.0,439.9 L1194.9,441.0 L1196.8,442.1 L1198.7,443.1 L1200.4,444.2 L1201.9,445.3 L1203.1,446.4 L1203.9,447.5 L1204.4,448.6 L1204.5,449.7 L1204.3,450.7 L1203.9,451.8 L1203.1,452.9 L1202.3,454.0 L1201.4,455.1 L1200.5,456.2 L1199.7,457.3 L1199.2,458.3 L1199.0,459.4 L1199.2,460.5 L1200.0,461.6 L1201.2,462.7 L1202.8,463.8 L1204.6,464.9 L1206.5,465.9 L1208.4,467.0 L1210.3,468.1 L1212.1,469.2 L1213.6,470.3 L1214.9,471.4 L1215.8,472.5 L1216.4,473.5 L1216.6,474.6 L1216.5,475.7 L1216.1,476.8 L1215.4,477.9 L1214.6,479.0 L1213.7,480.1 L1212.8,481.1 L1212.0,482.2 L1211.4,483.3 L1211.1,484.4 L1211.2,485.5 L1211.8,486.6 L1213.0,487.7 L1214.4,488.7 L1216.2,489.8 L1218.1,490.9 L1220.0,492.0 L1221.9,493.1 L1223.8,494.2 L1225.4,495.3 L1226.7,496.3 L1227.7,497.4 L1228.4,498.5 L1228.7,499.6 L1228.7,500.7 L1228.3,501.8 L1227.7,502.9 L1226.9,503.9 L1226.0,505.0 L1225.1,506.1 L1224.3,507.2 L1223.6,508.3 L1223.2,509.4 L1223.2,510.5 L1223.7,511.5 L1224.7,512.6 L1226.1,513.7 L1227.8,514.8 L1229.7,515.9 L1231.6,517.0 L1233.6,518.1 L1235.4,519.1 L1237.1,520.2 L1238.5,521.3 L1239.6,522.4 L1240.3,523.5 L1240.8,524.6 L1240.8,525.7 L1240.5,526.7 L1240.0,527.8 L1239.2,528.9 L1238.4,530.0" />
<path d="M1224.6,378.0 L1223.7,379.1 L1222.9,380.2 L1222.2,381.3 L1221.7,382.3 L1221.5,383.4 L1221.6,384.5 L1222.4,385.6 L1223.6,386.7 L1225.1,387.8 L1226.9,388.9 L1228.9,389.9 L1230.9,391.0 L1232.9,392.1 L1234.8,393.2 L1236.5,394.3 L1237.9,395.4 L1239.0,396.5 L1239.7,397.5 L1240.1,398.6 L1240.1,399.7 L1239.8,400.8 L1239.3,401.9 L1238.6,403.0 L1237.7,404.1 L1236.9,405.1 L1236.2,406.2 L1235.6,407.3 L1235.3,408.4 L1235.3,409.5 L1235.9,410.6 L1237.0,411.7 L1238.5,412.7 L1240.3,413.8 L1242.2,414.9 L1244.2,416.0 L1246.2,417.1 L1248.1,418.2 L1249.9,419.3 L1251.4,420.3 L1252.5,421.4 L1253.4,422.5 L1253.8,423.6 L1253.9,424.7 L1253.7,425.8 L1253.3,426.9 L1252.6,427.9 L1251.8,429.0 L1250.9,430.1 L1250.1,431.2 L1249.5,432.3 L1249.1,433.4 L1249.1,434.5 L1249.5,435.5 L1250.5,436.6 L1251.9,437.7 L1253.6,438.8 L1255.5,439.9 L1257.5,441.0 L1259.5,442.1 L1261.5,443.1 L1263.3,444.2 L1264.8,445.3 L1266.1,446.4 L1267.0,447.5 L1267.5,448.6 L1267.7,449.7 L1267.6,450.7 L1267.2,451.8 L1266.6,452.9 L1265.8,454.0 L1264.9,455.1 L1264.1,456.2 L1263.4,457.3 L1263.0,458.3 L1262.8,459.4 L1263.1,460.5 L1264.0,461.6 L1265.3,462.7 L1266.9,463.8 L1268.8,464.9 L1270.8,465.9 L1272.8,467.0 L1274.8,468.1 L1276.6,469.2 L1278.2,470.3 L1279.6,471.4 L1280.6,472.5 L1281.2,473.5 L1281.5,474.6 L1281.5,475.7 L1281.1,476.8 L1280.5,477.9 L1279.8,479.0 L1278.9,480.1 L1278.1,481.1 L1277.4,482.2 L1276.9,483.3 L1276.6,484.4 L1276.8,485.5 L1277.5,486.6 L1278.7,487.7 L1280.3,488.7 L1282.1,489.8 L1284.0,490.9 L1286.1,492.0 L1288.1,493.1 L1289.9,494.2 L1291.6,495.3 L1293.0,496.3 L1294.1,497.4 L1294.9,498.5 L1295.3,499.6 L1295.3,500.7 L1295.0,501.8 L1294.5,502.9 L1293.8,503.9 L1292.9,505.0 L1292.1,506.1 L1291.4,507.2 L1290.8,508.3 L1290.5,509.4 L1290.5,510.5 L1291.1,511.5 L1292.2,512.6 L1293.6,513.7 L1295.4,514.8 L1297.3,515.9 L1299.3,517.0 L1301.4,518.1 L1303.3,519.1 L1305.0,520.2 L1306.5,521.3 L1307.7,522.4 L1308.5,523.5 L1309.0,524.6 L1309.1,525.7 L1308.9,526.7 L1308.4,527.8 L1307.8,528.9 L1307.0,530.0" />
<path d="M1282.9,378.0 L1282.2,379.1 L1281.4,380.2 L1280.8,381.3 L1280.3,382.3 L1280.2,383.4 L1280.4,384.5 L1281.2,385.6 L1282.5,386.7 L1284.2,387.8 L1286.0,388.9 L1288.1,389.9 L1290.2,391.0 L1292.2,392.1 L1294.2,393.2 L1295.9,394.3 L1297.4,395.4 L1298.6,396.5 L1299.4,397.5 L1299.8,398.6 L1299.9,399.7 L1299.7,400.8 L1299.3,401.9 L1298.6,403.0 L1297.9,404.1 L1297.1,405.1 L1296.4,406.2 L1295.9,407.3 L1295.7,408.4 L1295.8,409.5 L1296.5,410.6 L1297.7,411.7 L1299.2,412.7 L1301.0,413.8 L1303.0,414.9 L1305.1,416.0 L1307.2,417.1 L1309.2,418.2 L1311.0,419.3 L1312.6,420.3 L1313.8,421.4 L1314.7,422.5 L1315.3,423.6 L1315.4,424.7 L1315.3,425.8 L1314.9,426.9 L1314.3,427.9 L1313.6,429.0 L1312.8,430.1 L1312.1,431.2 L1311.5,432.3 L1311.2,433.4 L1311.2,434.5 L1311.7,435.5 L1312.8,436.6 L1314.3,437.7 L1316.0,438.8 L1318.0,439.9 L1320.1,441.0 L1322.2,442.1 L1324.2,443.1 L1326.1,444.2 L1327.7,445.3 L1329.0,446.4 L1330.0,447.5 L1330.6,448.6 L1330.9,449.7 L1330.9,450.7 L1330.5,451.8 L1330.0,452.9 L1329.2,454.0 L1328.5,455.1 L1327.7,456.2 L1327.1,457.3 L1326.8,458.3 L1326.7,459.4 L1327.0,460.5 L1328.0,461.6 L1329.4,462.7 L1331.1,463.8 L1333.0,464.9 L1335.0,465.9 L1337.1,467.0 L1339.2,468.1 L1341.1,469.2 L1342.8,470.3 L1344.2,471.4 L1345.3,472.5 L1346.0,473.5 L1346.4,474.6 L1346.4,475.7 L1346.1,476.8 L1345.6,477.9 L1344.9,479.0 L1344.2,480.1 L1343.4,481.1 L1342.8,482.2 L1342.3,483.3 L1342.2,484.4 L1342.4,485.5 L1343.2,486.6 L1344.5,487.7 L1346.1,488.7 L1348.0,489.8 L1350.0,490.9 L1352.1,492.0 L1354.2,493.1 L1356.1,494.2 L1357.9,495.3 L1359.4,496.3 L1360.5,497.4 L1361.4,498.5 L1361.8,499.6 L1361.9,500.7 L1361.7,501.8 L1361.3,502.9 L1360.6,503.9 L1359.9,505.0 L1359.1,506.1 L1358.4,507.2 L1357.9,508.3 L1357.7,509.4 L1357.8,510.5 L1358.4,511.5 L1359.6,512.6 L1361.1,513.7 L1363.0,514.8 L1365.0,515.9 L1367.1,517.0 L1369.2,518.1 L1371.1,519.1 L1373.0,520.2 L1374.5,521.3 L1375.8,522.4 L1376.7,523.5 L1377.2,524.6 L1377.4,525.7 L1377.3,526.7 L1376.9,527.8 L1376.3,528.9 L1375.6,530.0" /></g>
<filter id="blur" x="-20%" y="-50%" width="140%" height="200%"><feGaussianBlur stdDeviation="14"/></filter>
<filter id="wblur" x="-20%" y="-20%" width="140%" height="140%"><feGaussianBlur stdDeviation="3.2"/></filter>
<filter id="wblur2" x="-20%" y="-20%" width="140%" height="140%"><feGaussianBlur stdDeviation="6"/></filter>
<filter id="wblur3" x="-20%" y="-20%" width="140%" height="140%"><feGaussianBlur stdDeviation="2"/></filter>
<clipPath id="topclip"><path d="M212,384 L1280,384 Q1298,384 1306,396 L1384,512 Q1388,522 1378,524 L128,524 Q118,522 122,512 L196,396 Q202,384 212,384 Z"/></clipPath>
<clipPath id="hardclip"><rect x="1170" y="1030" width="80" height="21"/><rect x="1250" y="1030" width="11" height="16"/></clipPath>
<linearGradient id="topgrad" x1="0" y1="0" x2="0" y2="1">
<stop offset="0" stop-color="#e4e4e4"/><stop offset="1" stop-color="#ececec"/>
</linearGradient>
<linearGradient id="bandgrad" x1="118" y1="0" x2="1324" y2="0" gradientUnits="userSpaceOnUse"><stop offset="0" stop-color="#f2f2f2"/><stop offset="0.09" stop-color="#d6d6d6"/><stop offset="1" stop-color="#d6d6d6"/></linearGradient>
</defs>
<rect width="1500" height="1125" fill="#fff"/>
<!-- shadow -->
<path d="M232,560 L1268,560 L1348,788 L185,788 Z" fill="#e6e6e6" filter="url(#blur)"/>

<!-- mattress top -->
<path d="M208,378 L1283,378 Q1300,378 1310,392 L1391,514 Q1396,526 1384,531 L122,531 Q110,526 116,514 L190,393 Q197,378 208,378 Z" fill="#f7f7f7" stroke="#d2d2d2" stroke-width="1.6"/>
<path d="M203,379.6 L1283,379.6" stroke="#c6c6c6" stroke-width="2.4" stroke-linecap="round"/>
<path d="M212,384 L1280,384 Q1298,384 1306,396 L1384,512 Q1388,522 1378,524 L128,524 Q118,522 122,512 L196,396 Q202,384 212,384 Z" fill="url(#topgrad)" stroke="#c9c9c9" stroke-width="1.4"/>
<g clip-path="url(#topclip)">
<g fill="none" stroke="#d8d8d8" stroke-width="14" filter="url(#wblur2)" transform="translate(9,0)">
<use href="#waves"/>
</g>
<g fill="none" stroke="#e9e9e9" stroke-width="9" filter="url(#wblur3)" transform="translate(-5,0)">
<use href="#waves"/>
</g>
<g fill="#b2b2b2" filter="url(#wblur)" transform="translate(2.5,1.5)">
<path d="M232.5,378.0 L230.5,379.1 L228.4,380.2 L226.4,381.3 L224.7,382.3 L223.2,383.4 L222.1,384.5 L221.6,385.6 L221.6,386.7 L221.9,387.8 L222.5,388.9 L223.2,389.9 L224.0,391.0 L224.7,392.1 L225.4,393.2 L225.8,394.3 L225.9,395.4 L225.8,396.5 L225.3,397.5 L224.4,398.6 L223.2,399.7 L221.7,400.8 L219.9,401.9 L217.9,403.0 L215.8,404.1 L213.8,405.1 L211.8,406.2 L209.9,407.3 L208.4,408.4 L207.2,409.5 L206.5,410.6 L206.4,411.7 L206.6,412.7 L207.1,413.8 L207.8,414.9 L208.6,416.0 L209.4,417.1 L210.1,418.2 L210.5,419.3 L210.8,420.3 L210.7,421.4 L210.3,422.5 L209.5,423.6 L208.4,424.7 L206.9,425.8 L205.2,426.9 L203.3,427.9 L201.2,429.0 L199.1,430.1 L197.1,431.2 L195.2,432.3 L193.6,433.4 L192.3,434.5 L191.5,435.5 L191.3,436.6 L191.4,437.7 L191.8,438.8 L192.5,439.9 L193.3,441.0 L194.0,442.1 L194.7,443.1 L195.3,444.2 L195.6,445.3 L195.6,446.4 L195.3,447.5 L194.6,448.6 L193.6,449.7 L192.2,450.7 L190.5,451.8 L188.6,452.9 L186.6,454.0 L184.5,455.1 L182.5,456.2 L180.5,457.3 L178.8,458.3 L177.5,459.4 L176.5,460.5 L176.1,461.6 L176.2,462.7 L176.6,463.8 L177.2,464.9 L177.9,465.9 L178.7,467.0 L179.4,468.1 L180.0,469.2 L180.4,470.3 L180.5,471.4 L180.2,472.5 L179.7,473.5 L178.7,474.6 L177.4,475.7 L175.8,476.8 L174.0,477.9 L172.0,479.0 L169.9,480.1 L167.8,481.1 L165.9,482.2 L164.1,483.3 L162.6,484.4 L161.5,485.5 L161.0,486.6 L161.0,487.7 L161.3,488.7 L161.8,489.8 L162.6,490.9 L163.3,492.0 L164.1,493.1 L164.7,494.2 L165.2,495.3 L165.3,496.3 L165.2,497.4 L164.7,498.5 L163.8,499.6 L162.6,500.7 L161.1,501.8 L159.3,502.9 L157.4,503.9 L155.3,505.0 L153.2,506.1 L151.2,507.2 L149.4,508.3 L147.8,509.4 L146.6,510.5 L145.9,511.5 L145.8,512.6 L146.0,513.7 L146.5,514.8 L147.2,515.9 L148.0,517.0 L148.8,518.1 L149.4,519.1 L149.9,520.2 L150.2,521.3 L150.1,522.4 L149.7,523.5 L148.9,524.6 L147.8,525.7 L146.4,526.7 L144.7,527.8 L142.7,528.9 L140.7,530.0 L147.8,530.0 L239.0,378.0 Z" />
<path d="M292.0,378.0 L290.0,379.1 L288.0,380.2 L286.1,381.3 L284.4,382.3 L283.0,383.4 L282.0,384.5 L281.6,385.6 L281.6,386.7 L282.0,387.8 L282.6,388.9 L283.4,389.9 L284.3,391.0 L285.1,392.1 L285.8,393.2 L286.3,394.3 L286.5,395.4 L286.5,396.5 L286.0,397.5 L285.2,398.6 L284.1,399.7 L282.6,400.8 L280.9,401.9 L279.0,403.0 L277.0,404.1 L275.0,405.1 L273.1,406.2 L271.3,407.3 L269.9,408.4 L268.8,409.5 L268.2,410.6 L268.1,411.7 L268.4,412.7 L269.0,413.8 L269.8,414.9 L270.6,416.0 L271.4,417.1 L272.2,418.2 L272.8,419.3 L273.1,420.3 L273.1,421.4 L272.7,422.5 L272.0,423.6 L271.0,424.7 L269.6,425.8 L267.9,426.9 L266.1,427.9 L264.1,429.0 L262.1,430.1 L260.1,431.2 L258.3,432.3 L256.8,433.4 L255.6,434.5 L254.8,435.5 L254.6,436.6 L254.9,437.7 L255.4,438.8 L256.1,439.9 L256.9,441.0 L257.8,442.1 L258.6,443.1 L259.2,444.2 L259.6,445.3 L259.6,446.4 L259.4,447.5 L258.8,448.6 L257.8,449.7 L256.5,450.7 L254.9,451.8 L253.1,452.9 L251.2,454.0 L249.1,455.1 L247.2,456.2 L245.3,457.3 L243.7,458.3 L242.4,459.4 L241.5,460.5 L241.2,461.6 L241.3,462.7 L241.8,463.8 L242.5,464.9 L243.3,465.9 L244.1,467.0 L244.9,468.1 L245.6,469.2 L246.0,470.3 L246.2,471.4 L246.0,472.5 L245.5,473.5 L244.6,474.6 L243.4,475.7 L241.9,476.8 L240.2,477.9 L238.2,479.0 L236.2,480.1 L234.2,481.1 L232.3,482.2 L230.6,483.3 L229.2,484.4 L228.2,485.5 L227.8,486.6 L227.8,487.7 L228.2,488.7 L228.8,489.8 L229.6,490.9 L230.5,492.0 L231.3,493.1 L232.0,494.2 L232.5,495.3 L232.8,496.3 L232.7,497.4 L232.2,498.5 L231.5,499.6 L230.3,500.7 L228.9,501.8 L227.2,502.9 L225.3,503.9 L223.3,505.0 L221.3,506.1 L219.3,507.2 L217.6,508.3 L216.1,509.4 L215.0,510.5 L214.4,511.5 L214.3,512.6 L214.6,513.7 L215.2,514.8 L215.9,515.9 L216.8,517.0 L217.6,518.1 L218.4,519.1 L219.0,520.2 L219.3,521.3 L219.3,522.4 L218.9,523.5 L218.2,524.6 L217.2,525.7 L215.8,526.7 L214.2,527.8 L212.3,528.9 L210.4,530.0 L217.5,530.0 L298.4,378.0 Z" />
<path d="M351.3,378.0 L349.4,379.1 L347.5,380.2 L345.7,381.3 L344.1,382.3 L342.7,383.4 L341.8,384.5 L341.5,385.6 L341.6,386.7 L342.0,387.8 L342.7,388.9 L343.6,389.9 L344.5,391.0 L345.4,392.1 L346.2,393.2 L346.8,394.3 L347.1,395.4 L347.1,396.5 L346.7,397.5 L346.0,398.6 L344.9,399.7 L343.6,400.8 L341.9,401.9 L340.1,403.0 L338.2,404.1 L336.2,405.1 L334.4,406.2 L332.7,407.3 L331.3,408.4 L330.3,409.5 L329.7,410.6 L329.8,411.7 L330.1,412.7 L330.8,413.8 L331.6,414.9 L332.6,416.0 L333.5,417.1 L334.3,418.2 L334.9,419.3 L335.3,420.3 L335.4,421.4 L335.1,422.5 L334.5,423.6 L333.5,424.7 L332.2,425.8 L330.6,426.9 L328.8,427.9 L326.9,429.0 L325.0,430.1 L323.1,431.2 L321.4,432.3 L319.9,433.4 L318.7,434.5 L318.1,435.5 L318.0,436.6 L318.3,437.7 L318.9,438.8 L319.7,439.9 L320.6,441.0 L321.5,442.1 L322.3,443.1 L323.0,444.2 L323.5,445.3 L323.6,446.4 L323.5,447.5 L322.9,448.6 L322.0,449.7 L320.8,450.7 L319.3,451.8 L317.6,452.9 L315.7,454.0 L313.7,455.1 L311.8,456.2 L310.0,457.3 L308.5,458.3 L307.3,459.4 L306.4,460.5 L306.2,461.6 L306.4,462.7 L306.9,463.8 L307.7,464.9 L308.6,465.9 L309.5,467.0 L310.4,468.1 L311.1,469.2 L311.7,470.3 L311.9,471.4 L311.8,472.5 L311.4,473.5 L310.5,474.6 L309.4,475.7 L308.0,476.8 L306.3,477.9 L304.4,479.0 L302.5,480.1 L300.6,481.1 L298.7,482.2 L297.1,483.3 L295.8,484.4 L294.9,485.5 L294.5,486.6 L294.6,487.7 L295.0,488.7 L295.7,489.8 L296.6,490.9 L297.5,492.0 L298.4,493.1 L299.2,494.2 L299.8,495.3 L300.1,496.3 L300.1,497.4 L299.8,498.5 L299.0,499.6 L298.0,500.7 L296.6,501.8 L295.0,502.9 L293.2,503.9 L291.2,505.0 L289.3,506.1 L287.4,507.2 L285.8,508.3 L284.4,509.4 L283.3,510.5 L282.8,511.5 L282.8,512.6 L283.1,513.7 L283.8,514.8 L284.6,515.9 L285.6,517.0 L286.5,518.1 L287.3,519.1 L287.9,520.2 L288.3,521.3 L288.4,522.4 L288.1,523.5 L287.5,524.6 L286.5,525.7 L285.2,526.7 L283.7,527.8 L281.9,528.9 L280.0,530.0 L287.1,530.0 L357.8,378.0 Z" />
<path d="M410.7,378.0 L408.8,379.1 L406.9,380.2 L405.2,381.3 L403.7,382.3 L402.4,383.4 L401.6,384.5 L401.3,385.6 L401.5,386.7 L402.0,387.8 L402.8,388.9 L403.7,389.9 L404.7,391.0 L405.7,392.1 L406.5,393.2 L407.2,394.3 L407.6,395.4 L407.6,396.5 L407.3,397.5 L406.7,398.6 L405.7,399.7 L404.4,400.8 L402.8,401.9 L401.1,403.0 L399.2,404.1 L397.4,405.1 L395.6,406.2 L394.0,407.3 L392.7,408.4 L391.7,409.5 L391.2,410.6 L391.3,411.7 L391.8,412.7 L392.5,413.8 L393.4,414.9 L394.4,416.0 L395.4,417.1 L396.3,418.2 L397.0,419.3 L397.5,420.3 L397.6,421.4 L397.4,422.5 L396.9,423.6 L395.9,424.7 L394.7,425.8 L393.2,426.9 L391.5,427.9 L389.7,429.0 L387.8,430.1 L386.0,431.2 L384.3,432.3 L382.9,433.4 L381.9,434.5 L381.3,435.5 L381.2,436.6 L381.6,437.7 L382.3,438.8 L383.1,439.9 L384.1,441.0 L385.1,442.1 L386.0,443.1 L386.8,444.2 L387.3,445.3 L387.6,446.4 L387.5,447.5 L387.0,448.6 L386.2,449.7 L385.0,450.7 L383.6,451.8 L381.9,452.9 L380.1,454.0 L378.2,455.1 L376.4,456.2 L374.7,457.3 L373.2,458.3 L372.1,459.4 L371.3,460.5 L371.2,461.6 L371.4,462.7 L372.0,463.8 L372.9,464.9 L373.8,465.9 L374.8,467.0 L375.8,468.1 L376.6,469.2 L377.2,470.3 L377.5,471.4 L377.5,472.5 L377.1,473.5 L376.4,474.6 L375.3,475.7 L373.9,476.8 L372.3,477.9 L370.5,479.0 L368.7,480.1 L366.8,481.1 L365.1,482.2 L363.5,483.3 L362.3,484.4 L361.4,485.5 L361.1,486.6 L361.3,487.7 L361.8,488.7 L362.6,489.8 L363.5,490.9 L364.5,492.0 L365.5,493.1 L366.4,494.2 L367.0,495.3 L367.4,496.3 L367.5,497.4 L367.2,498.5 L366.5,499.6 L365.6,500.7 L364.3,501.8 L362.7,502.9 L361.0,503.9 L359.1,505.0 L357.2,506.1 L355.5,507.2 L353.9,508.3 L352.5,509.4 L351.5,510.5 L351.1,511.5 L351.2,512.6 L351.6,513.7 L352.3,514.8 L353.2,515.9 L354.2,517.0 L355.2,518.1 L356.1,519.1 L356.8,520.2 L357.3,521.3 L357.4,522.4 L357.3,523.5 L356.7,524.6 L355.8,525.7 L354.6,526.7 L353.1,527.8 L351.4,528.9 L349.5,530.0 L356.7,530.0 L417.1,378.0 Z" />
<path d="M469.8,378.0 L468.1,379.1 L466.3,380.2 L464.6,381.3 L463.1,382.3 L462.0,383.4 L461.2,384.5 L461.0,385.6 L461.2,386.7 L461.8,387.8 L462.7,388.9 L463.7,389.9 L464.8,391.0 L465.8,392.1 L466.8,393.2 L467.5,394.3 L467.9,395.4 L468.1,396.5 L467.9,397.5 L467.3,398.6 L466.4,399.7 L465.1,400.8 L463.6,401.9 L462.0,403.0 L460.2,404.1 L458.4,405.1 L456.7,406.2 L455.2,407.3 L453.9,408.4 L453.0,409.5 L452.6,410.6 L452.8,411.7 L453.3,412.7 L454.1,413.8 L455.1,414.9 L456.2,416.0 L457.2,417.1 L458.2,418.2 L459.0,419.3 L459.5,420.3 L459.7,421.4 L459.6,422.5 L459.1,423.6 L458.3,424.7 L457.1,425.8 L455.7,426.9 L454.1,427.9 L452.3,429.0 L450.5,430.1 L448.8,431.2 L447.2,432.3 L445.9,433.4 L444.9,434.5 L444.3,435.5 L444.4,436.6 L444.8,437.7 L445.6,438.8 L446.5,439.9 L447.6,441.0 L448.6,442.1 L449.6,443.1 L450.5,444.2 L451.1,445.3 L451.4,446.4 L451.3,447.5 L450.9,448.6 L450.2,449.7 L449.1,450.7 L447.7,451.8 L446.2,452.9 L444.4,454.0 L442.6,455.1 L440.9,456.2 L439.2,457.3 L437.8,458.3 L436.7,459.4 L436.1,460.5 L436.0,461.6 L436.3,462.7 L437.0,463.8 L437.9,464.9 L438.9,465.9 L440.0,467.0 L441.0,468.1 L441.9,469.2 L442.6,470.3 L443.0,471.4 L443.0,472.5 L442.7,473.5 L442.1,474.6 L441.1,475.7 L439.8,476.8 L438.2,477.9 L436.5,479.0 L434.7,480.1 L433.0,481.1 L431.3,482.2 L429.8,483.3 L428.6,484.4 L427.8,485.5 L427.6,486.6 L427.9,487.7 L428.5,488.7 L429.3,489.8 L430.3,490.9 L431.4,492.0 L432.5,493.1 L433.4,494.2 L434.1,495.3 L434.6,496.3 L434.7,497.4 L434.5,498.5 L433.9,499.6 L433.0,500.7 L431.8,501.8 L430.3,502.9 L428.6,503.9 L426.9,505.0 L425.1,506.1 L423.4,507.2 L421.8,508.3 L420.6,509.4 L419.7,510.5 L419.3,511.5 L419.4,512.6 L419.9,513.7 L420.7,514.8 L421.7,515.9 L422.8,517.0 L423.9,518.1 L424.8,519.1 L425.6,520.2 L426.1,521.3 L426.4,522.4 L426.3,523.5 L425.8,524.6 L424.9,525.7 L423.8,526.7 L422.4,527.8 L420.7,528.9 L419.0,530.0 L426.1,530.0 L476.3,378.0 Z" />
<path d="M528.9,378.0 L527.2,379.1 L525.5,380.2 L523.9,381.3 L522.5,382.3 L521.4,383.4 L520.7,384.5 L520.5,385.6 L520.9,386.7 L521.5,387.8 L522.5,388.9 L523.6,389.9 L524.7,391.0 L525.8,392.1 L526.8,393.2 L527.6,394.3 L528.1,395.4 L528.4,396.5 L528.2,397.5 L527.7,398.6 L526.9,399.7 L525.7,400.8 L524.3,401.9 L522.7,403.0 L521.0,404.1 L519.3,405.1 L517.6,406.2 L516.2,407.3 L515.0,408.4 L514.2,409.5 L513.9,410.6 L514.1,411.7 L514.7,412.7 L515.6,413.8 L516.6,414.9 L517.8,416.0 L518.9,417.1 L520.0,418.2 L520.8,419.3 L521.4,420.3 L521.7,421.4 L521.6,422.5 L521.2,423.6 L520.5,424.7 L519.4,425.8 L518.0,426.9 L516.5,427.9 L514.8,429.0 L513.1,430.1 L511.4,431.2 L509.9,432.3 L508.6,433.4 L507.7,434.5 L507.2,435.5 L507.4,436.6 L507.9,437.7 L508.7,438.8 L509.7,439.9 L510.8,441.0 L512.0,442.1 L513.1,443.1 L514.0,444.2 L514.6,445.3 L515.0,446.4 L515.1,447.5 L514.7,448.6 L514.1,449.7 L513.1,450.7 L511.8,451.8 L510.2,452.9 L508.6,454.0 L506.9,455.1 L505.2,456.2 L503.6,457.3 L502.3,458.3 L501.3,459.4 L500.7,460.5 L500.7,461.6 L501.1,462.7 L501.8,463.8 L502.8,464.9 L503.9,465.9 L505.1,467.0 L506.2,468.1 L507.1,469.2 L507.9,470.3 L508.3,471.4 L508.4,472.5 L508.2,473.5 L507.6,474.6 L506.7,475.7 L505.5,476.8 L504.0,477.9 L502.4,479.0 L500.7,480.1 L499.0,481.1 L497.4,482.2 L496.0,483.3 L494.9,484.4 L494.1,485.5 L494.0,486.6 L494.3,487.7 L495.0,488.7 L495.9,489.8 L497.0,490.9 L498.1,492.0 L499.3,493.1 L500.3,494.2 L501.1,495.3 L501.6,496.3 L501.8,497.4 L501.7,498.5 L501.2,499.6 L500.3,500.7 L499.2,501.8 L497.8,502.9 L496.2,503.9 L494.5,505.0 L492.8,506.1 L491.1,507.2 L489.7,508.3 L488.5,509.4 L487.6,510.5 L487.3,511.5 L487.5,512.6 L488.1,513.7 L489.0,514.8 L490.1,515.9 L491.2,517.0 L492.3,518.1 L493.4,519.1 L494.2,520.2 L494.8,521.3 L495.1,522.4 L495.1,523.5 L494.7,524.6 L493.9,525.7 L492.9,526.7 L491.5,527.8 L490.0,528.9 L488.3,530.0 L495.4,530.0 L535.4,378.0 Z" />
<path d="M587.7,378.0 L586.1,379.1 L584.5,380.2 L583.0,381.3 L581.6,382.3 L580.6,383.4 L580.0,384.5 L579.9,385.6 L580.3,386.7 L581.1,387.8 L582.1,388.9 L583.2,389.9 L584.5,391.0 L585.6,392.1 L586.7,393.2 L587.6,394.3 L588.2,395.4 L588.5,396.5 L588.4,397.5 L588.0,398.6 L587.2,399.7 L586.1,400.8 L584.8,401.9 L583.2,403.0 L581.6,404.1 L580.0,405.1 L578.4,406.2 L577.0,407.3 L575.9,408.4 L575.2,409.5 L574.9,410.6 L575.2,411.7 L575.9,412.7 L576.9,413.8 L578.0,414.9 L579.2,416.0 L580.4,417.1 L581.5,418.2 L582.5,419.3 L583.1,420.3 L583.5,421.4 L583.5,422.5 L583.2,423.6 L582.5,424.7 L581.5,425.8 L580.2,426.9 L578.7,427.9 L577.1,429.0 L575.4,430.1 L573.8,431.2 L572.4,432.3 L571.2,433.4 L570.4,434.5 L570.0,435.5 L570.2,436.6 L570.8,437.7 L571.7,438.8 L572.7,439.9 L574.0,441.0 L575.2,442.1 L576.3,443.1 L577.3,444.2 L578.0,445.3 L578.5,446.4 L578.6,447.5 L578.4,448.6 L577.8,449.7 L576.8,450.7 L575.6,451.8 L574.2,452.9 L572.6,454.0 L570.9,455.1 L569.3,456.2 L567.8,457.3 L566.6,458.3 L565.6,459.4 L565.1,460.5 L565.2,461.6 L565.7,462.7 L566.5,463.8 L567.5,464.9 L568.7,465.9 L569.9,467.0 L571.1,468.1 L572.1,469.2 L572.9,470.3 L573.5,471.4 L573.7,472.5 L573.5,473.5 L573.0,474.6 L572.2,475.7 L571.0,476.8 L569.6,477.9 L568.1,479.0 L566.4,480.1 L564.8,481.1 L563.3,482.2 L561.9,483.3 L560.9,484.4 L560.2,485.5 L560.2,486.6 L560.6,487.7 L561.3,488.7 L562.3,489.8 L563.5,490.9 L564.7,492.0 L565.9,493.1 L567.0,494.2 L567.8,495.3 L568.4,496.3 L568.7,497.4 L568.7,498.5 L568.2,499.6 L567.5,500.7 L566.4,501.8 L565.1,502.9 L563.5,503.9 L561.9,505.0 L560.3,506.1 L558.7,507.2 L557.3,508.3 L556.2,509.4 L555.4,510.5 L555.2,511.5 L555.5,512.6 L556.1,513.7 L557.1,514.8 L558.2,515.9 L559.4,517.0 L560.6,518.1 L561.8,519.1 L562.7,520.2 L563.4,521.3 L563.7,522.4 L563.8,523.5 L563.4,524.6 L562.8,525.7 L561.8,526.7 L560.5,527.8 L559.0,528.9 L557.4,530.0 L564.5,530.0 L594.2,378.0 Z" />
<path d="M646.4,378.0 L644.8,379.1 L643.3,380.2 L641.8,381.3 L640.6,382.3 L639.6,383.4 L639.1,384.5 L639.1,385.6 L639.6,386.7 L640.4,387.8 L641.5,388.9 L642.7,389.9 L644.0,391.0 L645.3,392.1 L646.4,393.2 L647.4,394.3 L648.0,395.4 L648.4,396.5 L648.4,397.5 L648.0,398.6 L647.3,399.7 L646.3,400.8 L645.0,401.9 L643.6,403.0 L642.0,404.1 L640.4,405.1 L639.0,406.2 L637.7,407.3 L636.6,408.4 L635.9,409.5 L635.8,410.6 L636.2,411.7 L636.9,412.7 L637.9,413.8 L639.1,414.9 L640.4,416.0 L641.7,417.1 L642.9,418.2 L643.9,419.3 L644.6,420.3 L645.1,421.4 L645.2,422.5 L644.9,423.6 L644.3,424.7 L643.4,425.8 L642.1,426.9 L640.7,427.9 L639.2,429.0 L637.6,430.1 L636.1,431.2 L634.7,432.3 L633.6,433.4 L632.8,434.5 L632.5,435.5 L632.8,436.6 L633.5,437.7 L634.4,438.8 L635.6,439.9 L636.9,441.0 L638.2,442.1 L639.4,443.1 L640.4,444.2 L641.3,445.3 L641.8,446.4 L642.0,447.5 L641.8,448.6 L641.3,449.7 L640.4,450.7 L639.2,451.8 L637.9,452.9 L636.4,454.0 L634.8,455.1 L633.2,456.2 L631.8,457.3 L630.6,458.3 L629.8,459.4 L629.3,460.5 L629.5,461.6 L630.0,462.7 L630.9,463.8 L632.0,464.9 L633.3,465.9 L634.6,467.0 L635.8,468.1 L637.0,469.2 L637.8,470.3 L638.4,471.4 L638.7,472.5 L638.6,473.5 L638.2,474.6 L637.4,475.7 L636.3,476.8 L635.0,477.9 L633.5,479.0 L632.0,480.1 L630.4,481.1 L628.9,482.2 L627.7,483.3 L626.7,484.4 L626.2,485.5 L626.1,486.6 L626.6,487.7 L627.4,488.7 L628.5,489.8 L629.7,490.9 L631.0,492.0 L632.3,493.1 L633.5,494.2 L634.4,495.3 L635.1,496.3 L635.4,497.4 L635.5,498.5 L635.1,499.6 L634.4,500.7 L633.4,501.8 L632.1,502.9 L630.7,503.9 L629.1,505.0 L627.6,506.1 L626.1,507.2 L624.8,508.3 L623.7,509.4 L623.0,510.5 L622.9,511.5 L623.2,512.6 L624.0,513.7 L625.0,514.8 L626.2,515.9 L627.5,517.0 L628.8,518.1 L629.9,519.1 L630.9,520.2 L631.7,521.3 L632.2,522.4 L632.3,523.5 L632.0,524.6 L631.4,525.7 L630.5,526.7 L629.3,527.8 L627.8,528.9 L626.3,530.0 L633.4,530.0 L652.9,378.0 Z" />
<path d="M704.9,378.0 L703.4,379.1 L701.9,380.2 L700.5,381.3 L699.3,382.3 L698.5,383.4 L698.0,384.5 L698.1,385.6 L698.6,386.7 L699.5,387.8 L700.7,388.9 L702.0,389.9 L703.3,391.0 L704.7,392.1 L705.9,393.2 L706.9,394.3 L707.7,395.4 L708.1,396.5 L708.2,397.5 L707.9,398.6 L707.2,399.7 L706.3,400.8 L705.1,401.9 L703.7,403.0 L702.2,404.1 L700.7,405.1 L699.3,406.2 L698.1,407.3 L697.1,408.4 L696.5,409.5 L696.5,410.6 L696.9,411.7 L697.7,412.7 L698.8,413.8 L700.1,414.9 L701.5,416.0 L702.8,417.1 L704.1,418.2 L705.1,419.3 L706.0,420.3 L706.5,421.4 L706.6,422.5 L706.5,423.6 L705.9,424.7 L705.0,425.8 L703.9,426.9 L702.6,427.9 L701.1,429.0 L699.6,430.1 L698.1,431.2 L696.9,432.3 L695.8,433.4 L695.1,434.5 L694.9,435.5 L695.2,436.6 L696.0,437.7 L697.0,438.8 L698.2,439.9 L699.6,441.0 L700.9,442.1 L702.2,443.1 L703.4,444.2 L704.3,445.3 L704.8,446.4 L705.1,447.5 L705.0,448.6 L704.5,449.7 L703.8,450.7 L702.7,451.8 L701.4,452.9 L699.9,454.0 L698.4,455.1 L697.0,456.2 L695.6,457.3 L694.5,458.3 L693.7,459.4 L693.3,460.5 L693.6,461.6 L694.2,462.7 L695.2,463.8 L696.4,464.9 L697.7,465.9 L699.1,467.0 L700.4,468.1 L701.6,469.2 L702.5,470.3 L703.2,471.4 L703.5,472.5 L703.5,473.5 L703.2,474.6 L702.5,475.7 L701.5,476.8 L700.2,477.9 L698.8,479.0 L697.3,480.1 L695.8,481.1 L694.4,482.2 L693.3,483.3 L692.4,484.4 L691.9,485.5 L691.9,486.6 L692.5,487.7 L693.4,488.7 L694.5,489.8 L695.8,490.9 L697.2,492.0 L698.5,493.1 L699.7,494.2 L700.8,495.3 L701.5,496.3 L702.0,497.4 L702.0,498.5 L701.8,499.6 L701.1,500.7 L700.2,501.8 L699.0,502.9 L697.6,503.9 L696.2,505.0 L694.7,506.1 L693.2,507.2 L692.0,508.3 L691.0,509.4 L690.4,510.5 L690.3,511.5 L690.8,512.6 L691.6,513.7 L692.7,514.8 L693.9,515.9 L695.3,517.0 L696.7,518.1 L697.9,519.1 L699.0,520.2 L699.8,521.3 L700.3,522.4 L700.5,523.5 L700.3,524.6 L699.8,525.7 L699.0,526.7 L697.8,527.8 L696.5,528.9 L695.0,530.0 L702.1,530.0 L711.3,378.0 Z" />
<path d="M763.1,378.0 L761.7,379.1 L760.3,380.2 L759.0,381.3 L757.9,382.3 L757.1,383.4 L756.7,384.5 L756.8,385.6 L757.4,386.7 L758.4,387.8 L759.6,388.9 L761.0,389.9 L762.5,391.0 L763.9,392.1 L765.2,393.2 L766.3,394.3 L767.1,395.4 L767.6,396.5 L767.7,397.5 L767.5,398.6 L767.0,399.7 L766.1,400.8 L765.0,401.9 L763.7,403.0 L762.2,404.1 L760.8,405.1 L759.5,406.2 L758.3,407.3 L757.4,408.4 L756.9,409.5 L756.9,410.6 L757.4,411.7 L758.3,412.7 L759.5,413.8 L760.8,414.9 L762.3,416.0 L763.7,417.1 L765.0,418.2 L766.2,419.3 L767.1,420.3 L767.7,421.4 L767.9,422.5 L767.8,423.6 L767.3,424.7 L766.5,425.8 L765.4,426.9 L764.2,427.9 L762.8,429.0 L761.4,430.1 L760.0,431.2 L758.8,432.3 L757.8,433.4 L757.2,434.5 L757.0,435.5 L757.4,436.6 L758.2,437.7 L759.3,438.8 L760.6,439.9 L762.1,441.0 L763.5,442.1 L764.9,443.1 L766.1,444.2 L767.0,445.3 L767.7,446.4 L768.0,447.5 L768.0,448.6 L767.6,449.7 L766.9,450.7 L765.9,451.8 L764.7,452.9 L763.3,454.0 L761.9,455.1 L760.5,456.2 L759.2,457.3 L758.2,458.3 L757.5,459.4 L757.2,460.5 L757.4,461.6 L758.2,462.7 L759.2,463.8 L760.5,464.9 L761.9,465.9 L763.3,467.0 L764.7,468.1 L766.0,469.2 L767.0,470.3 L767.7,471.4 L768.2,472.5 L768.2,473.5 L767.9,474.6 L767.3,475.7 L766.4,476.8 L765.2,477.9 L763.9,479.0 L762.4,480.1 L761.0,481.1 L759.7,482.2 L758.6,483.3 L757.8,484.4 L757.4,485.5 L757.5,486.6 L758.1,487.7 L759.1,488.7 L760.3,489.8 L761.7,490.9 L763.1,492.0 L764.5,493.1 L765.8,494.2 L766.9,495.3 L767.8,496.3 L768.3,497.4 L768.4,498.5 L768.2,499.6 L767.7,500.7 L766.8,501.8 L765.7,502.9 L764.4,503.9 L763.0,505.0 L761.5,506.1 L760.2,507.2 L759.0,508.3 L758.1,509.4 L757.6,510.5 L757.6,511.5 L758.1,512.6 L759.0,513.7 L760.1,514.8 L761.5,515.9 L762.9,517.0 L764.4,518.1 L765.7,519.1 L766.8,520.2 L767.7,521.3 L768.3,522.4 L768.6,523.5 L768.5,524.6 L768.0,525.7 L767.2,526.7 L766.2,527.8 L764.9,528.9 L763.5,530.0 L770.6,530.0 L769.6,378.0 Z" />
<path d="M821.2,378.0 L819.8,379.1 L818.5,380.2 L817.3,381.3 L816.2,382.3 L815.5,383.4 L815.1,384.5 L815.4,385.6 L816.1,386.7 L817.1,387.8 L818.4,388.9 L819.9,389.9 L821.4,391.0 L822.9,392.1 L824.2,393.2 L825.4,394.3 L826.3,395.4 L826.9,396.5 L827.1,397.5 L826.9,398.6 L826.5,399.7 L825.7,400.8 L824.6,401.9 L823.4,403.0 L822.0,404.1 L820.7,405.1 L819.4,406.2 L818.3,407.3 L817.5,408.4 L817.1,409.5 L817.1,410.6 L817.7,411.7 L818.7,412.7 L819.9,413.8 L821.4,414.9 L822.9,416.0 L824.4,417.1 L825.8,418.2 L827.0,419.3 L828.0,420.3 L828.6,421.4 L828.9,422.5 L828.9,423.6 L828.5,424.7 L827.8,425.8 L826.8,426.9 L825.6,427.9 L824.3,429.0 L822.9,430.1 L821.6,431.2 L820.5,432.3 L819.6,433.4 L819.0,434.5 L818.9,435.5 L819.4,436.6 L820.3,437.7 L821.5,438.8 L822.9,439.9 L824.4,441.0 L825.9,442.1 L827.3,443.1 L828.6,444.2 L829.6,445.3 L830.4,446.4 L830.8,447.5 L830.8,448.6 L830.5,449.7 L829.9,450.7 L828.9,451.8 L827.8,452.9 L826.5,454.0 L825.1,455.1 L823.8,456.2 L822.6,457.3 L821.7,458.3 L821.0,459.4 L820.8,460.5 L821.1,461.6 L821.9,462.7 L823.0,463.8 L824.4,464.9 L825.8,465.9 L827.4,467.0 L828.8,468.1 L830.2,469.2 L831.3,470.3 L832.1,471.4 L832.6,472.5 L832.7,473.5 L832.5,474.6 L831.9,475.7 L831.1,476.8 L830.0,477.9 L828.7,479.0 L827.4,480.1 L826.0,481.1 L824.8,482.2 L823.8,483.3 L823.0,484.4 L822.7,485.5 L822.9,486.6 L823.6,487.7 L824.6,488.7 L825.9,489.8 L827.3,490.9 L828.9,492.0 L830.3,493.1 L831.7,494.2 L832.9,495.3 L833.8,496.3 L834.4,497.4 L834.6,498.5 L834.5,499.6 L834.0,500.7 L833.2,501.8 L832.2,502.9 L830.9,503.9 L829.6,505.0 L828.2,506.1 L827.0,507.2 L825.9,508.3 L825.0,509.4 L824.6,510.5 L824.6,511.5 L825.2,512.6 L826.2,513.7 L827.4,514.8 L828.8,515.9 L830.3,517.0 L831.8,518.1 L833.2,519.1 L834.5,520.2 L835.4,521.3 L836.1,522.4 L836.4,523.5 L836.4,524.6 L836.0,525.7 L835.3,526.7 L834.3,527.8 L833.1,528.9 L831.8,530.0 L838.9,530.0 L827.6,378.0 Z" />
<path d="M879.0,378.0 L877.7,379.1 L876.5,380.2 L875.3,381.3 L874.4,382.3 L873.7,383.4 L873.4,384.5 L873.7,385.6 L874.5,386.7 L875.6,387.8 L877.0,388.9 L878.5,389.9 L880.1,391.0 L881.7,392.1 L883.1,393.2 L884.3,394.3 L885.3,395.4 L886.0,396.5 L886.3,397.5 L886.2,398.6 L885.8,399.7 L885.1,400.8 L884.1,401.9 L882.9,403.0 L881.6,404.1 L880.4,405.1 L879.2,406.2 L878.2,407.3 L877.4,408.4 L877.0,409.5 L877.2,410.6 L877.9,411.7 L878.9,412.7 L880.2,413.8 L881.7,414.9 L883.3,416.0 L884.9,417.1 L886.3,418.2 L887.6,419.3 L888.7,420.3 L889.4,421.4 L889.8,422.5 L889.8,423.6 L889.5,424.7 L888.8,425.8 L887.9,426.9 L886.8,427.9 L885.6,429.0 L884.3,430.1 L883.0,431.2 L882.0,432.3 L881.2,433.4 L880.7,434.5 L880.7,435.5 L881.2,436.6 L882.2,437.7 L883.4,438.8 L884.9,439.9 L886.5,441.0 L888.0,442.1 L889.5,443.1 L890.9,444.2 L892.0,445.3 L892.8,446.4 L893.3,447.5 L893.4,448.6 L893.2,449.7 L892.6,450.7 L891.8,451.8 L890.7,452.9 L889.5,454.0 L888.2,455.1 L886.9,456.2 L885.8,457.3 L884.9,458.3 L884.3,459.4 L884.2,460.5 L884.6,461.6 L885.5,462.7 L886.7,463.8 L888.1,464.9 L889.6,465.9 L891.2,467.0 L892.8,468.1 L894.1,469.2 L895.3,470.3 L896.2,471.4 L896.8,472.5 L897.0,473.5 L896.9,474.6 L896.4,475.7 L895.6,476.8 L894.6,477.9 L893.4,479.0 L892.1,480.1 L890.8,481.1 L889.7,482.2 L888.7,483.3 L888.0,484.4 L887.7,485.5 L888.0,486.6 L888.8,487.7 L889.9,488.7 L891.3,489.8 L892.8,490.9 L894.4,492.0 L895.9,493.1 L897.4,494.2 L898.6,495.3 L899.6,496.3 L900.3,497.4 L900.6,498.5 L900.5,499.6 L900.1,500.7 L899.4,501.8 L898.4,502.9 L897.3,503.9 L896.0,505.0 L894.7,506.1 L893.5,507.2 L892.5,508.3 L891.7,509.4 L891.4,510.5 L891.5,511.5 L892.1,512.6 L893.2,513.7 L894.5,514.8 L896.0,515.9 L897.6,517.0 L899.1,518.1 L900.6,519.1 L901.9,520.2 L903.0,521.3 L903.7,522.4 L904.1,523.5 L904.1,524.6 L903.8,525.7 L903.2,526.7 L902.3,527.8 L901.1,528.9 L899.9,530.0 L907.0,530.0 L885.5,378.0 Z" />
<path d="M936.7,378.0 L935.5,379.1 L934.3,380.2 L933.2,381.3 L932.3,382.3 L931.7,383.4 L931.5,384.5 L931.9,385.6 L932.8,386.7 L934.0,387.8 L935.4,388.9 L937.0,389.9 L938.7,391.0 L940.3,392.1 L941.8,393.2 L943.1,394.3 L944.2,395.4 L944.9,396.5 L945.2,397.5 L945.2,398.6 L944.9,399.7 L944.3,400.8 L943.4,401.9 L942.3,403.0 L941.1,404.1 L939.9,405.1 L938.8,406.2 L937.8,407.3 L937.1,408.4 L936.8,409.5 L937.0,410.6 L937.8,411.7 L938.9,412.7 L940.3,413.8 L941.9,414.9 L943.5,416.0 L945.2,417.1 L946.7,418.2 L948.1,419.3 L949.2,420.3 L950.0,421.4 L950.5,422.5 L950.6,423.6 L950.3,424.7 L949.7,425.8 L948.9,426.9 L947.8,427.9 L946.7,429.0 L945.5,430.1 L944.3,431.2 L943.3,432.3 L942.6,433.4 L942.2,434.5 L942.2,435.5 L942.8,436.6 L943.9,437.7 L945.2,438.8 L946.7,439.9 L948.4,441.0 L950.0,442.1 L951.6,443.1 L953.0,444.2 L954.2,445.3 L955.1,446.4 L955.7,447.5 L955.8,448.6 L955.7,449.7 L955.2,450.7 L954.4,451.8 L953.4,452.9 L952.3,454.0 L951.0,455.1 L949.9,456.2 L948.8,457.3 L948.0,458.3 L947.5,459.4 L947.4,460.5 L947.9,461.6 L948.9,462.7 L950.1,463.8 L951.6,464.9 L953.2,465.9 L954.9,467.0 L956.5,468.1 L958.0,469.2 L959.2,470.3 L960.2,471.4 L960.8,472.5 L961.1,473.5 L961.0,474.6 L960.6,475.7 L959.9,476.8 L959.0,477.9 L957.8,479.0 L956.6,480.1 L955.4,481.1 L954.4,482.2 L953.5,483.3 L952.9,484.4 L952.7,485.5 L953.0,486.6 L953.9,487.7 L955.0,488.7 L956.5,489.8 L958.1,490.9 L959.7,492.0 L961.4,493.1 L962.9,494.2 L964.2,495.3 L965.3,496.3 L966.0,497.4 L966.4,498.5 L966.4,499.6 L966.0,500.7 L965.4,501.8 L964.5,502.9 L963.4,503.9 L962.2,505.0 L961.0,506.1 L959.9,507.2 L959.0,508.3 L958.3,509.4 L958.0,510.5 L958.2,511.5 L958.9,512.6 L960.0,513.7 L961.4,514.8 L962.9,515.9 L964.6,517.0 L966.2,518.1 L967.8,519.1 L969.2,520.2 L970.3,521.3 L971.1,522.4 L971.6,523.5 L971.7,524.6 L971.4,525.7 L970.9,526.7 L970.0,527.8 L969.0,528.9 L967.8,530.0 L974.9,530.0 L943.2,378.0 Z" />
<path d="M994.2,378.0 L993.1,379.1 L992.0,380.2 L991.0,381.3 L990.1,382.3 L989.6,383.4 L989.5,384.5 L990.0,385.6 L990.9,386.7 L992.1,387.8 L993.7,388.9 L995.3,389.9 L997.1,391.0 L998.8,392.1 L1000.4,393.2 L1001.7,394.3 L1002.8,395.4 L1003.6,396.5 L1004.1,397.5 L1004.2,398.6 L1003.9,399.7 L1003.3,400.8 L1002.5,401.9 L1001.5,403.0 L1000.4,404.1 L999.2,405.1 L998.2,406.2 L997.3,407.3 L996.7,408.4 L996.5,409.5 L996.8,410.6 L997.6,411.7 L998.8,412.7 L1000.2,413.8 L1001.9,414.9 L1003.6,416.0 L1005.3,417.1 L1006.9,418.2 L1008.4,419.3 L1009.6,420.3 L1010.5,421.4 L1011.0,422.5 L1011.2,423.6 L1011.0,424.7 L1010.5,425.8 L1009.7,426.9 L1008.7,427.9 L1007.6,429.0 L1006.5,430.1 L1005.4,431.2 L1004.5,432.3 L1003.8,433.4 L1003.5,434.5 L1003.6,435.5 L1004.3,436.6 L1005.4,437.7 L1006.8,438.8 L1008.4,439.9 L1010.1,441.0 L1011.9,442.1 L1013.5,443.1 L1015.0,444.2 L1016.3,445.3 L1017.2,446.4 L1017.9,447.5 L1018.1,448.6 L1018.0,449.7 L1017.6,450.7 L1016.9,451.8 L1016.0,452.9 L1014.9,454.0 L1013.8,455.1 L1012.7,456.2 L1011.7,457.3 L1010.9,458.3 L1010.5,459.4 L1010.5,460.5 L1011.1,461.6 L1012.1,462.7 L1013.4,463.8 L1015.0,464.9 L1016.7,465.9 L1018.4,467.0 L1020.1,468.1 L1021.6,469.2 L1023.0,470.3 L1024.0,471.4 L1024.7,472.5 L1025.1,473.5 L1025.1,474.6 L1024.7,475.7 L1024.1,476.8 L1023.2,477.9 L1022.2,479.0 L1021.0,480.1 L1019.9,481.1 L1018.9,482.2 L1018.1,483.3 L1017.6,484.4 L1017.4,485.5 L1017.9,486.6 L1018.8,487.7 L1020.0,488.7 L1021.5,489.8 L1023.2,490.9 L1025.0,492.0 L1026.7,493.1 L1028.2,494.2 L1029.6,495.3 L1030.8,496.3 L1031.6,497.4 L1032.0,498.5 L1032.1,499.6 L1031.8,500.7 L1031.3,501.8 L1030.4,502.9 L1029.4,503.9 L1028.3,505.0 L1027.2,506.1 L1026.1,507.2 L1025.3,508.3 L1024.7,509.4 L1024.4,510.5 L1024.7,511.5 L1025.5,512.6 L1026.7,513.7 L1028.1,514.8 L1029.8,515.9 L1031.5,517.0 L1033.2,518.1 L1034.8,519.1 L1036.3,520.2 L1037.5,521.3 L1038.4,522.4 L1038.9,523.5 L1039.1,524.6 L1038.9,525.7 L1038.4,526.7 L1037.7,527.8 L1036.7,528.9 L1035.6,530.0 L1042.7,530.0 L1000.7,378.0 Z" />
<path d="M1051.6,378.0 L1050.6,379.1 L1049.5,380.2 L1048.6,381.3 L1047.8,382.3 L1047.4,383.4 L1047.3,384.5 L1047.9,385.6 L1048.9,386.7 L1050.2,387.8 L1051.8,388.9 L1053.5,389.9 L1055.3,391.0 L1057.1,392.1 L1058.8,393.2 L1060.2,394.3 L1061.4,395.4 L1062.3,396.5 L1062.8,397.5 L1063.0,398.6 L1062.8,399.7 L1062.3,400.8 L1061.5,401.9 L1060.6,403.0 L1059.5,404.1 L1058.5,405.1 L1057.5,406.2 L1056.7,407.3 L1056.2,408.4 L1056.0,409.5 L1056.4,410.6 L1057.3,411.7 L1058.5,412.7 L1060.1,413.8 L1061.8,414.9 L1063.6,416.0 L1065.4,417.1 L1067.1,418.2 L1068.6,419.3 L1069.8,420.3 L1070.8,421.4 L1071.4,422.5 L1071.6,423.6 L1071.5,424.7 L1071.1,425.8 L1070.4,426.9 L1069.5,427.9 L1068.5,429.0 L1067.4,430.1 L1066.4,431.2 L1065.6,432.3 L1065.0,433.4 L1064.7,434.5 L1064.9,435.5 L1065.7,436.6 L1066.9,437.7 L1068.3,438.8 L1070.0,439.9 L1071.8,441.0 L1073.6,442.1 L1075.3,443.1 L1076.9,444.2 L1078.2,445.3 L1079.3,446.4 L1080.0,447.5 L1080.3,448.6 L1080.3,449.7 L1079.9,450.7 L1079.3,451.8 L1078.4,452.9 L1077.4,454.0 L1076.4,455.1 L1075.3,456.2 L1074.4,457.3 L1073.8,458.3 L1073.4,459.4 L1073.5,460.5 L1074.1,461.6 L1075.2,462.7 L1076.6,463.8 L1078.2,464.9 L1080.0,465.9 L1081.8,467.0 L1083.6,468.1 L1085.2,469.2 L1086.6,470.3 L1087.7,471.4 L1088.5,472.5 L1088.9,473.5 L1089.0,474.6 L1088.7,475.7 L1088.2,476.8 L1087.4,477.9 L1086.4,479.0 L1085.3,480.1 L1084.3,481.1 L1083.3,482.2 L1082.6,483.3 L1082.2,484.4 L1082.1,485.5 L1082.6,486.6 L1083.6,487.7 L1084.9,488.7 L1086.5,489.8 L1088.2,490.9 L1090.0,492.0 L1091.8,493.1 L1093.5,494.2 L1094.9,495.3 L1096.1,496.3 L1097.0,497.4 L1097.5,498.5 L1097.7,499.6 L1097.5,500.7 L1097.0,501.8 L1096.3,502.9 L1095.3,503.9 L1094.3,505.0 L1093.2,506.1 L1092.3,507.2 L1091.5,508.3 L1090.9,509.4 L1090.7,510.5 L1091.1,511.5 L1092.0,512.6 L1093.2,513.7 L1094.8,514.8 L1096.5,515.9 L1098.3,517.0 L1100.1,518.1 L1101.8,519.1 L1103.3,520.2 L1104.5,521.3 L1105.5,522.4 L1106.1,523.5 L1106.4,524.6 L1106.3,525.7 L1105.9,526.7 L1105.2,527.8 L1104.3,528.9 L1103.2,530.0 L1110.4,530.0 L1058.1,378.0 Z" />
<path d="M1108.9,378.0 L1108.0,379.1 L1107.0,380.2 L1106.1,381.3 L1105.5,382.3 L1105.1,383.4 L1105.1,384.5 L1105.7,385.6 L1106.8,386.7 L1108.2,387.8 L1109.8,388.9 L1111.7,389.9 L1113.5,391.0 L1115.4,392.1 L1117.1,393.2 L1118.7,394.3 L1119.9,395.4 L1120.9,396.5 L1121.4,397.5 L1121.7,398.6 L1121.6,399.7 L1121.1,400.8 L1120.4,401.9 L1119.6,403.0 L1118.6,404.1 L1117.6,405.1 L1116.7,406.2 L1116.0,407.3 L1115.5,408.4 L1115.5,409.5 L1115.9,410.6 L1116.9,411.7 L1118.2,412.7 L1119.8,413.8 L1121.6,414.9 L1123.5,416.0 L1125.3,417.1 L1127.1,418.2 L1128.7,419.3 L1130.0,420.3 L1131.0,421.4 L1131.7,422.5 L1132.0,423.6 L1132.0,424.7 L1131.7,425.8 L1131.0,426.9 L1130.2,427.9 L1129.2,429.0 L1128.2,430.1 L1127.3,431.2 L1126.5,432.3 L1126.0,433.4 L1125.8,434.5 L1126.1,435.5 L1127.0,436.6 L1128.2,437.7 L1129.7,438.8 L1131.5,439.9 L1133.4,441.0 L1135.2,442.1 L1137.0,443.1 L1138.7,444.2 L1140.1,445.3 L1141.2,446.4 L1142.0,447.5 L1142.4,448.6 L1142.4,449.7 L1142.2,450.7 L1141.6,451.8 L1140.8,452.9 L1139.9,454.0 L1138.9,455.1 L1137.9,456.2 L1137.1,457.3 L1136.5,458.3 L1136.2,459.4 L1136.4,460.5 L1137.1,461.6 L1138.2,462.7 L1139.7,463.8 L1141.4,464.9 L1143.3,465.9 L1145.1,467.0 L1147.0,468.1 L1148.7,469.2 L1150.1,470.3 L1151.3,471.4 L1152.2,472.5 L1152.7,473.5 L1152.8,474.6 L1152.6,475.7 L1152.2,476.8 L1151.4,477.9 L1150.5,479.0 L1149.5,480.1 L1148.6,481.1 L1147.7,482.2 L1147.0,483.3 L1146.6,484.4 L1146.7,485.5 L1147.2,486.6 L1148.3,487.7 L1149.7,488.7 L1151.4,489.8 L1153.2,490.9 L1155.1,492.0 L1156.9,493.1 L1158.6,494.2 L1160.2,495.3 L1161.4,496.3 L1162.4,497.4 L1163.0,498.5 L1163.2,499.6 L1163.1,500.7 L1162.7,501.8 L1162.0,502.9 L1161.1,503.9 L1160.2,505.0 L1159.2,506.1 L1158.3,507.2 L1157.6,508.3 L1157.1,509.4 L1157.0,510.5 L1157.4,511.5 L1158.4,512.6 L1159.7,513.7 L1161.3,514.8 L1163.1,515.9 L1165.0,517.0 L1166.8,518.1 L1168.6,519.1 L1170.2,520.2 L1171.5,521.3 L1172.6,522.4 L1173.3,523.5 L1173.6,524.6 L1173.6,525.7 L1173.2,526.7 L1172.6,527.8 L1171.8,528.9 L1170.8,530.0 L1177.9,530.0 L1115.4,378.0 Z" />
<path d="M1166.2,378.0 L1165.3,379.1 L1164.4,380.2 L1163.6,381.3 L1163.0,382.3 L1162.7,383.4 L1162.8,384.5 L1163.5,385.6 L1164.6,386.7 L1166.1,387.8 L1167.9,388.9 L1169.8,389.9 L1171.7,391.0 L1173.6,392.1 L1175.4,393.2 L1177.0,394.3 L1178.4,395.4 L1179.4,396.5 L1180.0,397.5 L1180.3,398.6 L1180.3,399.7 L1179.9,400.8 L1179.3,401.9 L1178.5,403.0 L1177.6,404.1 L1176.7,405.1 L1175.9,406.2 L1175.3,407.3 L1174.9,408.4 L1174.9,409.5 L1175.4,410.6 L1176.4,411.7 L1177.8,412.7 L1179.5,413.8 L1181.3,414.9 L1183.3,416.0 L1185.2,417.1 L1187.1,418.2 L1188.7,419.3 L1190.1,420.3 L1191.2,421.4 L1192.0,422.5 L1192.4,423.6 L1192.4,424.7 L1192.2,425.8 L1191.6,426.9 L1190.8,427.9 L1190.0,429.0 L1189.0,430.1 L1188.2,431.2 L1187.5,432.3 L1187.0,433.4 L1186.9,434.5 L1187.3,435.5 L1188.2,436.6 L1189.5,437.7 L1191.1,438.8 L1193.0,439.9 L1194.9,441.0 L1196.8,442.1 L1198.7,443.1 L1200.4,444.2 L1201.9,445.3 L1203.1,446.4 L1203.9,447.5 L1204.4,448.6 L1204.5,449.7 L1204.3,450.7 L1203.9,451.8 L1203.1,452.9 L1202.3,454.0 L1201.4,455.1 L1200.5,456.2 L1199.7,457.3 L1199.2,458.3 L1199.0,459.4 L1199.2,460.5 L1200.0,461.6 L1201.2,462.7 L1202.8,463.8 L1204.6,464.9 L1206.5,465.9 L1208.4,467.0 L1210.3,468.1 L1212.1,469.2 L1213.6,470.3 L1214.9,471.4 L1215.8,472.5 L1216.4,473.5 L1216.6,474.6 L1216.5,475.7 L1216.1,476.8 L1215.4,477.9 L1214.6,479.0 L1213.7,480.1 L1212.8,481.1 L1212.0,482.2 L1211.4,483.3 L1211.1,484.4 L1211.2,485.5 L1211.8,486.6 L1213.0,487.7 L1214.4,488.7 L1216.2,489.8 L1218.1,490.9 L1220.0,492.0 L1221.9,493.1 L1223.8,494.2 L1225.4,495.3 L1226.7,496.3 L1227.7,497.4 L1228.4,498.5 L1228.7,499.6 L1228.7,500.7 L1228.3,501.8 L1227.7,502.9 L1226.9,503.9 L1226.0,505.0 L1225.1,506.1 L1224.3,507.2 L1223.6,508.3 L1223.2,509.4 L1223.2,510.5 L1223.7,511.5 L1224.7,512.6 L1226.1,513.7 L1227.8,514.8 L1229.7,515.9 L1231.6,517.0 L1233.6,518.1 L1235.4,519.1 L1237.1,520.2 L1238.5,521.3 L1239.6,522.4 L1240.3,523.5 L1240.8,524.6 L1240.8,525.7 L1240.5,526.7 L1240.0,527.8 L1239.2,528.9 L1238.4,530.0 L1245.5,530.0 L1172.7,378.0 Z" />
<path d="M1224.6,378.0 L1223.7,379.1 L1222.9,380.2 L1222.2,381.3 L1221.7,382.3 L1221.5,383.4 L1221.6,384.5 L1222.4,385.6 L1223.6,386.7 L1225.1,387.8 L1226.9,388.9 L1228.9,389.9 L1230.9,391.0 L1232.9,392.1 L1234.8,393.2 L1236.5,394.3 L1237.9,395.4 L1239.0,396.5 L1239.7,397.5 L1240.1,398.6 L1240.1,399.7 L1239.8,400.8 L1239.3,401.9 L1238.6,403.0 L1237.7,404.1 L1236.9,405.1 L1236.2,406.2 L1235.6,407.3 L1235.3,408.4 L1235.3,409.5 L1235.9,410.6 L1237.0,411.7 L1238.5,412.7 L1240.3,413.8 L1242.2,414.9 L1244.2,416.0 L1246.2,417.1 L1248.1,418.2 L1249.9,419.3 L1251.4,420.3 L1252.5,421.4 L1253.4,422.5 L1253.8,423.6 L1253.9,424.7 L1253.7,425.8 L1253.3,426.9 L1252.6,427.9 L1251.8,429.0 L1250.9,430.1 L1250.1,431.2 L1249.5,432.3 L1249.1,433.4 L1249.1,434.5 L1249.5,435.5 L1250.5,436.6 L1251.9,437.7 L1253.6,438.8 L1255.5,439.9 L1257.5,441.0 L1259.5,442.1 L1261.5,443.1 L1263.3,444.2 L1264.8,445.3 L1266.1,446.4 L1267.0,447.5 L1267.5,448.6 L1267.7,449.7 L1267.6,450.7 L1267.2,451.8 L1266.6,452.9 L1265.8,454.0 L1264.9,455.1 L1264.1,456.2 L1263.4,457.3 L1263.0,458.3 L1262.8,459.4 L1263.1,460.5 L1264.0,461.6 L1265.3,462.7 L1266.9,463.8 L1268.8,464.9 L1270.8,465.9 L1272.8,467.0 L1274.8,468.1 L1276.6,469.2 L1278.2,470.3 L1279.6,471.4 L1280.6,472.5 L1281.2,473.5 L1281.5,474.6 L1281.5,475.7 L1281.1,476.8 L1280.5,477.9 L1279.8,479.0 L1278.9,480.1 L1278.1,481.1 L1277.4,482.2 L1276.9,483.3 L1276.6,484.4 L1276.8,485.5 L1277.5,486.6 L1278.7,487.7 L1280.3,488.7 L1282.1,489.8 L1284.0,490.9 L1286.1,492.0 L1288.1,493.1 L1289.9,494.2 L1291.6,495.3 L1293.0,496.3 L1294.1,497.4 L1294.9,498.5 L1295.3,499.6 L1295.3,500.7 L1295.0,501.8 L1294.5,502.9 L1293.8,503.9 L1292.9,505.0 L1292.1,506.1 L1291.4,507.2 L1290.8,508.3 L1290.5,509.4 L1290.5,510.5 L1291.1,511.5 L1292.2,512.6 L1293.6,513.7 L1295.4,514.8 L1297.3,515.9 L1299.3,517.0 L1301.4,518.1 L1303.3,519.1 L1305.0,520.2 L1306.5,521.3 L1307.7,522.4 L1308.5,523.5 L1309.0,524.6 L1309.1,525.7 L1308.9,526.7 L1308.4,527.8 L1307.8,528.9 L1307.0,530.0 L1314.1,530.0 L1231.0,378.0 Z" />
<path d="M1282.9,378.0 L1282.2,379.1 L1281.4,380.2 L1280.8,381.3 L1280.3,382.3 L1280.2,383.4 L1280.4,384.5 L1281.2,385.6 L1282.5,386.7 L1284.2,387.8 L1286.0,388.9 L1288.1,389.9 L1290.2,391.0 L1292.2,392.1 L1294.2,393.2 L1295.9,394.3 L1297.4,395.4 L1298.6,396.5 L1299.4,397.5 L1299.8,398.6 L1299.9,399.7 L1299.7,400.8 L1299.3,401.9 L1298.6,403.0 L1297.9,404.1 L1297.1,405.1 L1296.4,406.2 L1295.9,407.3 L1295.7,408.4 L1295.8,409.5 L1296.5,410.6 L1297.7,411.7 L1299.2,412.7 L1301.0,413.8 L1303.0,414.9 L1305.1,416.0 L1307.2,417.1 L1309.2,418.2 L1311.0,419.3 L1312.6,420.3 L1313.8,421.4 L1314.7,422.5 L1315.3,423.6 L1315.4,424.7 L1315.3,425.8 L1314.9,426.9 L1314.3,427.9 L1313.6,429.0 L1312.8,430.1 L1312.1,431.2 L1311.5,432.3 L1311.2,433.4 L1311.2,434.5 L1311.7,435.5 L1312.8,436.6 L1314.3,437.7 L1316.0,438.8 L1318.0,439.9 L1320.1,441.0 L1322.2,442.1 L1324.2,443.1 L1326.1,444.2 L1327.7,445.3 L1329.0,446.4 L1330.0,447.5 L1330.6,448.6 L1330.9,449.7 L1330.9,450.7 L1330.5,451.8 L1330.0,452.9 L1329.2,454.0 L1328.5,455.1 L1327.7,456.2 L1327.1,457.3 L1326.8,458.3 L1326.7,459.4 L1327.0,460.5 L1328.0,461.6 L1329.4,462.7 L1331.1,463.8 L1333.0,464.9 L1335.0,465.9 L1337.1,467.0 L1339.2,468.1 L1341.1,469.2 L1342.8,470.3 L1344.2,471.4 L1345.3,472.5 L1346.0,473.5 L1346.4,474.6 L1346.4,475.7 L1346.1,476.8 L1345.6,477.9 L1344.9,479.0 L1344.2,480.1 L1343.4,481.1 L1342.8,482.2 L1342.3,483.3 L1342.2,484.4 L1342.4,485.5 L1343.2,486.6 L1344.5,487.7 L1346.1,488.7 L1348.0,489.8 L1350.0,490.9 L1352.1,492.0 L1354.2,493.1 L1356.1,494.2 L1357.9,495.3 L1359.4,496.3 L1360.5,497.4 L1361.4,498.5 L1361.8,499.6 L1361.9,500.7 L1361.7,501.8 L1361.3,502.9 L1360.6,503.9 L1359.9,505.0 L1359.1,506.1 L1358.4,507.2 L1357.9,508.3 L1357.7,509.4 L1357.8,510.5 L1358.4,511.5 L1359.6,512.6 L1361.1,513.7 L1363.0,514.8 L1365.0,515.9 L1367.1,517.0 L1369.2,518.1 L1371.1,519.1 L1373.0,520.2 L1374.5,521.3 L1375.8,522.4 L1376.7,523.5 L1377.2,524.6 L1377.4,525.7 L1377.3,526.7 L1376.9,527.8 L1376.3,528.9 L1375.6,530.0 L1382.7,530.0 L1289.4,378.0 Z" />
</g>
<g fill="none" stroke="#fbfbfb" stroke-width="2.4">
<use href="#waves"/>
</g>
</g>
<rect x="118" y="525" width="1206" height="8.5" fill="url(#bandgrad)"/>
<rect x="1324" y="525" width="64" height="7.3" fill="#f2f2f2"/>
<rect x="118" y="532.5" width="537" height="2" fill="#1c2033"/>
<!-- side band -->
<linearGradient id="solegrad" x1="0" y1="0" x2="0" y2="1"><stop offset="0" stop-color="#d2d2d2"/><stop offset="1" stop-color="#ececec"/></linearGradient>
<path d="M116,596 L116,608 Q118,626 138,626.5 L1372,626.5 Q1390,626 1391,608 L1391,596 Z" fill="url(#solegrad)"/>
<path d="M114,533 L1391,533 L1391,604 Q1391,619 1376,619 L128,619 Q114,619 114,604 Z" fill="#242c55"/>
<rect x="654" y="529" width="671" height="91" fill="#d0efe3"/>
<rect x="654" y="529" width="671" height="9" fill="#3a8de8"/>
<rect x="654" y="538" width="671" height="1.5" fill="#9fe0f0"/>
<rect x="654" y="609.5" width="671" height="10.5" fill="#3a8de8"/>
<rect x="654" y="608" width="671" height="1.5" fill="#9fe0f0"/>
<path d="M1330,532.3 L1389,532.3 Q1392,533 1392,537 L1392,603 Q1392,617 1378,618 L1330,618 Z" fill="#2c3a6a"/>
<rect x="1323.5" y="529" width="6.5" height="90" fill="#1f5a8e"/>

<!-- dashed lines -->
<g fill="none" stroke="#000" stroke-width="4" stroke-dasharray="12 4">
<path d="M272.7,216.8 L343.8,216.8 L493,423"/>
<path d="M1246.5,177.2 L1202.9,178.8 L918.7,528.4"/>
<path d="M1172.4,621.3 L1237,706"/>
</g>
<path d="M1248,177 L1257.5,177" stroke="#a4a4b2" stroke-width="3"/>
<g fill="none" stroke="#1f2b52" stroke-width="3.2" stroke-dasharray="11 6">
<path d="M918.7,528.4 L886.7,573.8"/>
<path d="M1101.3,532.4 L1136,575 L1172.4,621.3"/>
<path d="M1136,575 L1101.3,614.2"/>
</g>
<g fill="none" stroke="#4a4d68" stroke-width="2.7" stroke-dasharray="11.5 8">
<path d="M298.5,627.6 L220.8,707.7"/>
<path d="M528,625 L455,705"/>
</g>
<g fill="#242c55">
<circle cx="502" cy="434" r="7.5"/>
<circle cx="886.7" cy="573.8" r="6.8"/>
<circle cx="1101.3" cy="532.4" r="4.6"/>
<circle cx="1101.3" cy="614.2" r="4.6"/>
</g>

<circle cx="194" cy="136.5" r="35.5" fill="#1f2a5e"/>
<g fill="#fff">
<circle cx="170.5" cy="113.0" r="11"/>
<circle cx="170.5" cy="136.5" r="10"/>
<circle cx="170.5" cy="160.0" r="11"/>
<circle cx="194" cy="113.0" r="10"/>
<circle cx="194" cy="136.5" r="10"/>
<circle cx="194" cy="160.0" r="10"/>
<circle cx="217.5" cy="113.0" r="11"/>
<circle cx="217.5" cy="136.5" r="10"/>
<circle cx="217.5" cy="160.0" r="11"/>
</g>
<circle cx="194" cy="136.5" r="42.5" fill="none" stroke="#676a80" stroke-width="1.8"/>
<text x="136.4" y="211" font-size="21" fill="#7f8296" textLength="115.9" lengthAdjust="spacing" font-weight="normal" stroke="#fff" stroke-width="0.5" >Soft stretch</text>
<text x="166.7" y="237" font-size="21" fill="#7f8296" textLength="56.3" lengthAdjust="spacing" font-weight="normal" stroke="#fff" stroke-width="0.5" >fabric</text>
<circle cx="1308" cy="134.5" r="42.5" fill="none" stroke="#676a80" stroke-width="1.7"/>
<g fill="none" stroke="#7a7d90" stroke-width="1.4" stroke-linecap="round">
<path d="M1290.7,139.2 C1284,144 1276,145 1273.5,136 C1271.5,127 1281,119 1290,118.7 C1296,118.5 1298,124 1296.7,131.5 C1296,134 1293,137 1290.7,139.2"/>
<path d="M1296.7,131.5 C1300,133 1304,126 1307,123 C1309,120.5 1311,120 1313,120 L1343.6,124.3"/>
<path d="M1290.7,139.2 C1297,138.5 1303,145 1311.2,146 C1322,146.5 1334,138 1344.5,139.6"/>
<path d="M1270.7,146 C1278,147 1287,146 1293.3,145 C1300,146 1305,151 1311.2,151.1 C1320,151 1327,145 1334.2,144.7 L1344.9,145.6"/>
</g>
<g fill="#3e4160">
<circle cx="1300.1" cy="139.2" r="1.3"/>
<circle cx="1306.1" cy="140.5" r="1.3"/>
<circle cx="1311.6" cy="142.2" r="1.3"/>
<circle cx="1317.6" cy="140.9" r="1.3"/>
<circle cx="1323.6" cy="138.8" r="1.3"/>
<circle cx="1329.5" cy="136.6" r="1.3"/>
<circle cx="1335.1" cy="135.6" r="1.3"/>
<circle cx="1341.1" cy="136.6" r="1.3"/>
</g>
<text x="1258" y="209" font-size="21" fill="#7f8296" textLength="107.0" lengthAdjust="spacing" font-weight="normal" stroke="#fff" stroke-width="0.5" >Ergonomic</text>
<text x="1262" y="235" font-size="21" fill="#7f8296" textLength="98.0" lengthAdjust="spacing" font-weight="normal" stroke="#fff" stroke-width="0.5" >foam core</text>
<circle cx="191.4" cy="744.6" r="42.5" fill="#f6f6f8" fill-opacity="0.6" stroke="#676a80" stroke-width="1.7"/>
<path d="M158.1,728.1 H176.0 M184.5,728.1 H198.6 M207.6,728.1 H225.5 M158.1,739.7 H164.5 M173.0,739.7 H187.1 M196.0,739.7 H210.6 M219.1,739.7 H225.5 M158.1,751.2 H176.0 M184.5,751.2 H198.6 M207.6,751.2 H225.5 M158.1,762.7 H164.5 M173.0,762.7 H187.1 M196.0,762.7 H210.6 M219.1,762.7 H225.5 M168.3,717.5 V723.5 M168.3,732.8 V746.9 M168.3,755.9 V773.8 M179.8,717.5 V735.4 M179.8,743.5 V758.4 M179.8,766.5 V774.2 M191.4,717.5 V723.5 M191.4,732.8 V746.9 M191.4,755.9 V773.8 M202.9,717.5 V735.4 M202.9,743.5 V758.4 M202.9,766.5 V774.2 M214.8,717.5 V723.5 M214.8,732.8 V746.9 M214.8,755.9 V773.8" stroke="#62657c" stroke-width="1.7" fill="none"/>
<text x="138.3" y="820" font-size="21" fill="#7f8296" textLength="110.7" lengthAdjust="spacing" font-weight="normal" stroke="#fff" stroke-width="0.5" >Breathable</text>
<text x="181.7" y="846.5" font-size="21" fill="#7f8296" textLength="57.6" lengthAdjust="spacing" font-weight="normal" stroke="#fff" stroke-width="0.5" >fabric</text>
<circle cx="426.2" cy="745.4" r="43.2" fill="#f4f4f6" fill-opacity="0.5" stroke="#676a80" stroke-width="1.8"/>
<g stroke="#c9cad6" stroke-width="0.8" stroke-dasharray="1.2 1.2" fill="none">
<path d="M426.2,714.1 L453.5,729.4 L453.5,761 L426.2,776.8 L398.9,761 L398.9,729.4 Z M426.2,714.1 V745.2 M398.9,729.4 L426.2,745.2 L453.5,729.4 M426.2,745.2 V776.8 M398.9,761 L426.2,745.2 L453.5,761"/>
</g>
<g fill="#1f2a5e">
<circle cx="426.2" cy="714.1" r="3.8"/><circle cx="453.5" cy="729.4" r="3.8"/><circle cx="453.5" cy="761" r="3.8"/><circle cx="426.2" cy="776.8" r="3.8"/><circle cx="398.9" cy="761" r="3.8"/><circle cx="398.9" cy="729.4" r="3.8"/><circle cx="426.2" cy="745.2" r="3.8"/>
</g>

<text x="434.3" y="750.8" font-size="13.5" fill="#3b3e58" textLength="19.6" lengthAdjust="spacingAndGlyphs">3D</text>

<text x="343.8" y="819.5" font-size="21" fill="#7f8296" textLength="181.2" lengthAdjust="spacing" font-weight="normal" stroke="#fff" stroke-width="0.5" >Bottom cover with</text>
<text x="348.2" y="846" font-size="21" fill="#7f8296" textLength="173.7" lengthAdjust="spacing" font-weight="normal" stroke="#fff" stroke-width="0.5" >breathable fabric</text>
<circle cx="1258.9" cy="745.2" r="43" fill="none" stroke="#676a80" stroke-width="1.8"/>
<path d="M1238.4,711 A39.5,39.5 0 1 0 1296.7,755 Z" fill="none" stroke="#73768b" stroke-width="1.3"/>
<path d="M1250.0,736.0 C1249.0,732.0 1252.0,728.0 1255.0,729.0 C1257.0,727.0 1261.0,728.0 1261.5,731.0 C1264.0,729.0 1267.5,731.0 1267.0,734.0 C1270.0,733.0 1273.0,736.0 1272.5,739.0 C1277.0,744.0 1280.0,750.0 1279.5,756.0 C1279.0,764.0 1272.0,768.0 1265.0,767.5 C1259.0,767.0 1255.0,764.0 1252.0,760.0 L1246.0,754.0 C1244.0,752.0 1246.0,749.0 1249.0,751.0 L1252.0,753.0 C1250.0,747.0 1249.5,741.0 1250.0,736.0 Z" fill="#5b6b9c"/>
<path d="M1257,730 C1256,726 1259,722 1262,723 C1264,721 1268,722 1268.5,725 C1271,723 1274.5,725 1274,728 C1277,727 1280,730 1279.5,733 C1284,738 1287,744 1286.5,750 C1286,758 1279,762 1272,761.5 C1266,761 1262,758 1259,754 L1253,748 C1251,746 1253,743 1256,745 L1259,747 C1257,741 1256.5,735 1257,730 Z" fill="#1f2a5e"/>

<text x="1208.8" y="817.8" font-size="21" fill="#7f8296" textLength="104.5" lengthAdjust="spacing" font-weight="normal" stroke="#fff" stroke-width="0.5" >Super soft</text>
<text x="1208.3" y="844" font-size="21" fill="#7f8296" textLength="106.2" lengthAdjust="spacing" font-weight="normal" stroke="#fff" stroke-width="0.5" >foam layer</text>
<text x="49.3" y="903.5" font-size="16" fill="#525870" textLength="126.7" lengthAdjust="spacingAndGlyphs">MADE IN EUROPE</text>
<rect x="43.3" y="911" width="143.4" height="95.7" fill="#3e4b7b"/>
<g fill="#f2d12e">
<polygon points="115.0,922.1 116.4,925.4 119.9,925.7 117.2,928.0 118.1,931.5 115.0,929.6 111.9,931.5 112.8,928.0 110.1,925.7 113.6,925.4"/>
<polygon points="130.8,926.3 132.2,929.7 135.8,929.9 133.0,932.3 133.9,935.8 130.8,933.8 127.8,935.8 128.7,932.3 125.9,929.9 129.5,929.7"/>
<polygon points="142.5,937.9 143.8,941.3 147.4,941.5 144.6,943.9 145.5,947.4 142.5,945.4 139.4,947.4 140.3,943.9 137.5,941.5 141.1,941.3"/>
<polygon points="146.7,953.8 148.1,957.1 151.6,957.4 148.9,959.7 149.8,963.2 146.7,961.3 143.6,963.2 144.5,959.7 141.8,957.4 145.3,957.1"/>
<polygon points="142.5,969.6 143.8,973.0 147.4,973.2 144.6,975.6 145.5,979.1 142.5,977.1 139.4,979.1 140.3,975.6 137.5,973.2 141.1,973.0"/>
<polygon points="130.8,981.3 132.2,984.6 135.8,984.8 133.0,987.2 133.9,990.7 130.8,988.8 127.8,990.7 128.7,987.2 125.9,984.8 129.5,984.6"/>
<polygon points="115.0,985.5 116.4,988.8 119.9,989.1 117.2,991.4 118.1,994.9 115.0,993.0 111.9,994.9 112.8,991.4 110.1,989.1 113.6,988.8"/>
<polygon points="99.2,981.3 100.5,984.6 104.1,984.8 101.3,987.2 102.2,990.7 99.2,988.8 96.1,990.7 97.0,987.2 94.2,984.8 97.8,984.6"/>
<polygon points="87.5,969.6 88.9,973.0 92.5,973.2 89.7,975.6 90.6,979.1 87.5,977.1 84.5,979.1 85.4,975.6 82.6,973.2 86.2,973.0"/>
<polygon points="83.3,953.8 84.7,957.1 88.2,957.4 85.5,959.7 86.4,963.2 83.3,961.3 80.2,963.2 81.1,959.7 78.4,957.4 81.9,957.1"/>
<polygon points="87.5,937.9 88.9,941.3 92.5,941.5 89.7,943.9 90.6,947.4 87.5,945.4 84.5,947.4 85.4,943.9 82.6,941.5 86.2,941.3"/>
<polygon points="99.1,926.3 100.5,929.7 104.1,929.9 101.3,932.3 102.2,935.8 99.1,933.8 96.1,935.8 97.0,932.3 94.2,929.9 97.8,929.7"/>
</g>
<circle cx="425.1" cy="977.9" r="43.4" fill="none" stroke="#1f2a5e" stroke-width="2.2"/>
<path d="M385.6,989.5 C392,988 398,990.5 405,989.3 C412,988 418,990.5 425,989.3 C432,988 438,990.5 445,989.3 C452,988 458,990 463.5,989.3 A39.3,39.3 0 0 1 386.5,989.5 Z" fill="#1f2a5e"/>
<g fill="none" stroke="#fff" stroke-width="2.2" stroke-linecap="round" stroke-linejoin="round">
<path d="M397.1,1001.5 L401.6,997 L406.1,1001.5"/>
<path d="M413.1,1001.5 L417.6,997 L422.1,1001.5"/>
<path d="M429.1,1001.5 L433.6,997 L438.1,1001.5"/>
<path d="M445.9,1001.5 L450.4,997 L454.9,1001.5"/>
</g><g fill="none" stroke="#1f2a5e" stroke-width="2.2" stroke-linecap="round" stroke-linejoin="round">
<path d="M389.5,980.5 L394,985 L398.5,980.5"/>
<path d="M405.5,980.5 L410,985 L414.5,980.5"/>
<path d="M421.9,980.5 L426.4,985 L430.9,980.5"/>
<path d="M437.9,980.5 L442.4,985 L446.9,980.5"/>
<path d="M454.4,980.5 L458.9,985 L463.4,980.5"/>
<path d="M399,956.9 L428.2,956.9 C432,956.9 433.5,953 432.5,950 C431.5,947 427,946 424.5,948 C422.5,949.5 423,952.5 425.5,953"/>
<path d="M395,961.8 L445.1,961.8 C449,961.5 451,957 450,953.5 C449,950.5 445,949.5 442.5,951.5 C441,953 441.5,955.5 443.5,956"/>
<path d="M402.4,967.1 L435.3,967.1 C439,967.5 440,971 438.5,973 C437.5,974.3 436,974.5 435,974.2"/>
</g>
<text x="382.7" y="1052.7" font-size="21" fill="#575b72" textLength="85.6" lengthAdjust="spacing" font-weight="normal" stroke="#fff" stroke-width="0.25" >AirFresh</text>
<text x="388.3" y="1079.3" font-size="21" fill="#575b72" textLength="75.0" lengthAdjust="spacing" font-weight="normal" stroke="#fff" stroke-width="0.25" >System</text>
<circle cx="695.2" cy="978.1" r="43" fill="none" stroke="#1f2a5e" stroke-width="2.3"/>
<g fill="#1f2a5e">
<circle cx="695" cy="977" r="15"/>
<path d="M695,977 L700,946.7 M695,977 L666.3,962.7 M695,977 L726.8,987.1 M695,977 L682.3,1009.8 M695,977 L678.8,960 M695,977 L690.3,954.7 M695,977 L670.3,978.7 M695,977 L672.6,989.3 M695,977 L716.1,971.6 M695,977 L710.8,993.8 M695,977 L698.3,999.1" stroke="#1f2a5e" stroke-width="3.2" stroke-linecap="round"/>
<circle cx="700" cy="946.7" r="4.2"/><circle cx="666.3" cy="962.7" r="4.2"/><circle cx="726.8" cy="987.1" r="4.2"/><circle cx="682.3" cy="1009.8" r="4.2"/>
<circle cx="686" cy="966" r="8"/><circle cx="705" cy="988" r="8"/>
</g>
<g fill="#fff"><circle cx="690" cy="969" r="3.3"/><circle cx="683" cy="978.7" r="2.2"/><circle cx="702.8" cy="981.3" r="2.2"/><circle cx="696.6" cy="989.3" r="2.2"/></g>
<path d="M660,1013 L730,943" stroke="#fff" stroke-width="8.5"/>
<path d="M663.7,1009.3 L726.3,947.1" stroke="#1f2a5e" stroke-width="2.4"/>

<text x="629.4" y="1054" font-size="21" fill="#464b66" textLength="131.6" lengthAdjust="spacing" font-weight="normal" stroke="#fff" stroke-width="0.2" >Antibacterial</text>
<text x="666.7" y="1081" font-size="21" fill="#464b66" textLength="58.3" lengthAdjust="spacing" font-weight="normal" stroke="#fff" stroke-width="0.2" >fabric</text>
<path d="M964.6,936.6 A40.4,40.4 0 0 1 964.6,1017.4 Z" fill="#1f2a5e"/>
<g fill="#1f2a5e">
<path d="M963,931 C968,928 973,926 976.3,925.2 C977,929 979,933 982,937 C976,934 969,932 963,931 Z"/>
<path d="M963,1023 C968,1026 973,1027 976.3,1028.4 C977,1024 979,1020 982,1016 C976,1020 969,1022 963,1023 Z"/>
<path d="M993,944 L1001.9,945.6 L1001,954 C999,950 996,947 993,944 Z"/>
<path d="M993,1009 L1001.9,1007 L1001,999 C999,1003 996,1006 993,1009 Z"/>
<path d="M1005,966 C1009,970 1012,973 1015.7,976.3 C1012,979 1009,983 1005,987 C1007,980 1007,973 1005,966 Z"/>
</g>
<g fill="none" stroke="#1f2a5e" stroke-width="2.3" stroke-linecap="butt" stroke-linejoin="miter">
<path d="M922.5,969.0 L930.5,977.0 L922.5,984.9 M922.5,984.9 L930.5,977.0 L922.5,969.0 M924.8,977.0 L952.8,977.0 M935.4,977.0 L947.9,969.9 L948.6,956.5 L947.9,940.3 M935.4,977.0 L947.9,984.0 L948.6,997.4 L947.9,1013.6 M934.6,948.2 L946.7,950.5 M934.6,1005.7 L946.7,1003.4 M948.6,956.5 L960.7,963.3 L960.7,944.8 M948.6,997.4 L960.7,990.6 L960.7,1009.1 M954.3,947.8 L960.3,953.1 M954.3,1006.1 L960.3,1000.8 M949.7,959.9 L956.5,969.8 L961.5,969.8 M949.7,994.0 L956.5,984.1 L961.5,984.1 M952.8,977.0 L956.5,969.8 M952.8,977.0 L956.5,984.1 M933.1,961.1 L940.3,965.6 M933.1,992.8 L940.3,988.3 M938.4,957.3 L940.3,965.6 M938.4,996.6 L940.3,988.3 M932.0,967.9 L947.9,969.9 M932.0,986.0 L947.9,984.0"/>
</g>

<text x="917.3" y="1051.7" font-size="21" fill="#7f8296" textLength="106.4" lengthAdjust="spacing" font-weight="normal" stroke="#fff" stroke-width="0.5" >Two faces</text>
<circle cx="1222.6" cy="977.9" r="44.5" fill="none" stroke="#1f2a5e" stroke-width="2.4"/>
<g fill="none" stroke="#1f2a5e" stroke-width="2.4" stroke-linecap="butt" stroke-linejoin="miter">
<path d="M1198.5,967 C1199,961.5 1204,959.2 1209.5,959.2 C1216,959.2 1220.5,963 1220.5,969.5 C1220.5,976 1215,981 1209,986.5 L1198.5,996.5 L1222,996.5"/>
</g>
<g fill="none" stroke="#3b3f5e" stroke-width="1.4">
<path d="M1226.2,982.6 L1233.4,961"/>
<path d="M1247,960.5 L1237.5,960.5 L1236.6,969.5 C1238,968 1240,967.5 1242,967.5 C1246,967.5 1248,970.5 1248,974 C1248,978 1245,980.8 1241.5,980.8 C1239,980.8 1237,979.5 1236,977.5"/>
</g>
<g clip-path="url(#hardclip)">
<text x="1176.4" y="1050.5" font-size="21" fill="#5f6378" textLength="84.6" lengthAdjust="spacing" font-weight="normal" stroke="#fff" stroke-width="0.3" >Hardnes</text>
</g>
</svg>
</body></html>
